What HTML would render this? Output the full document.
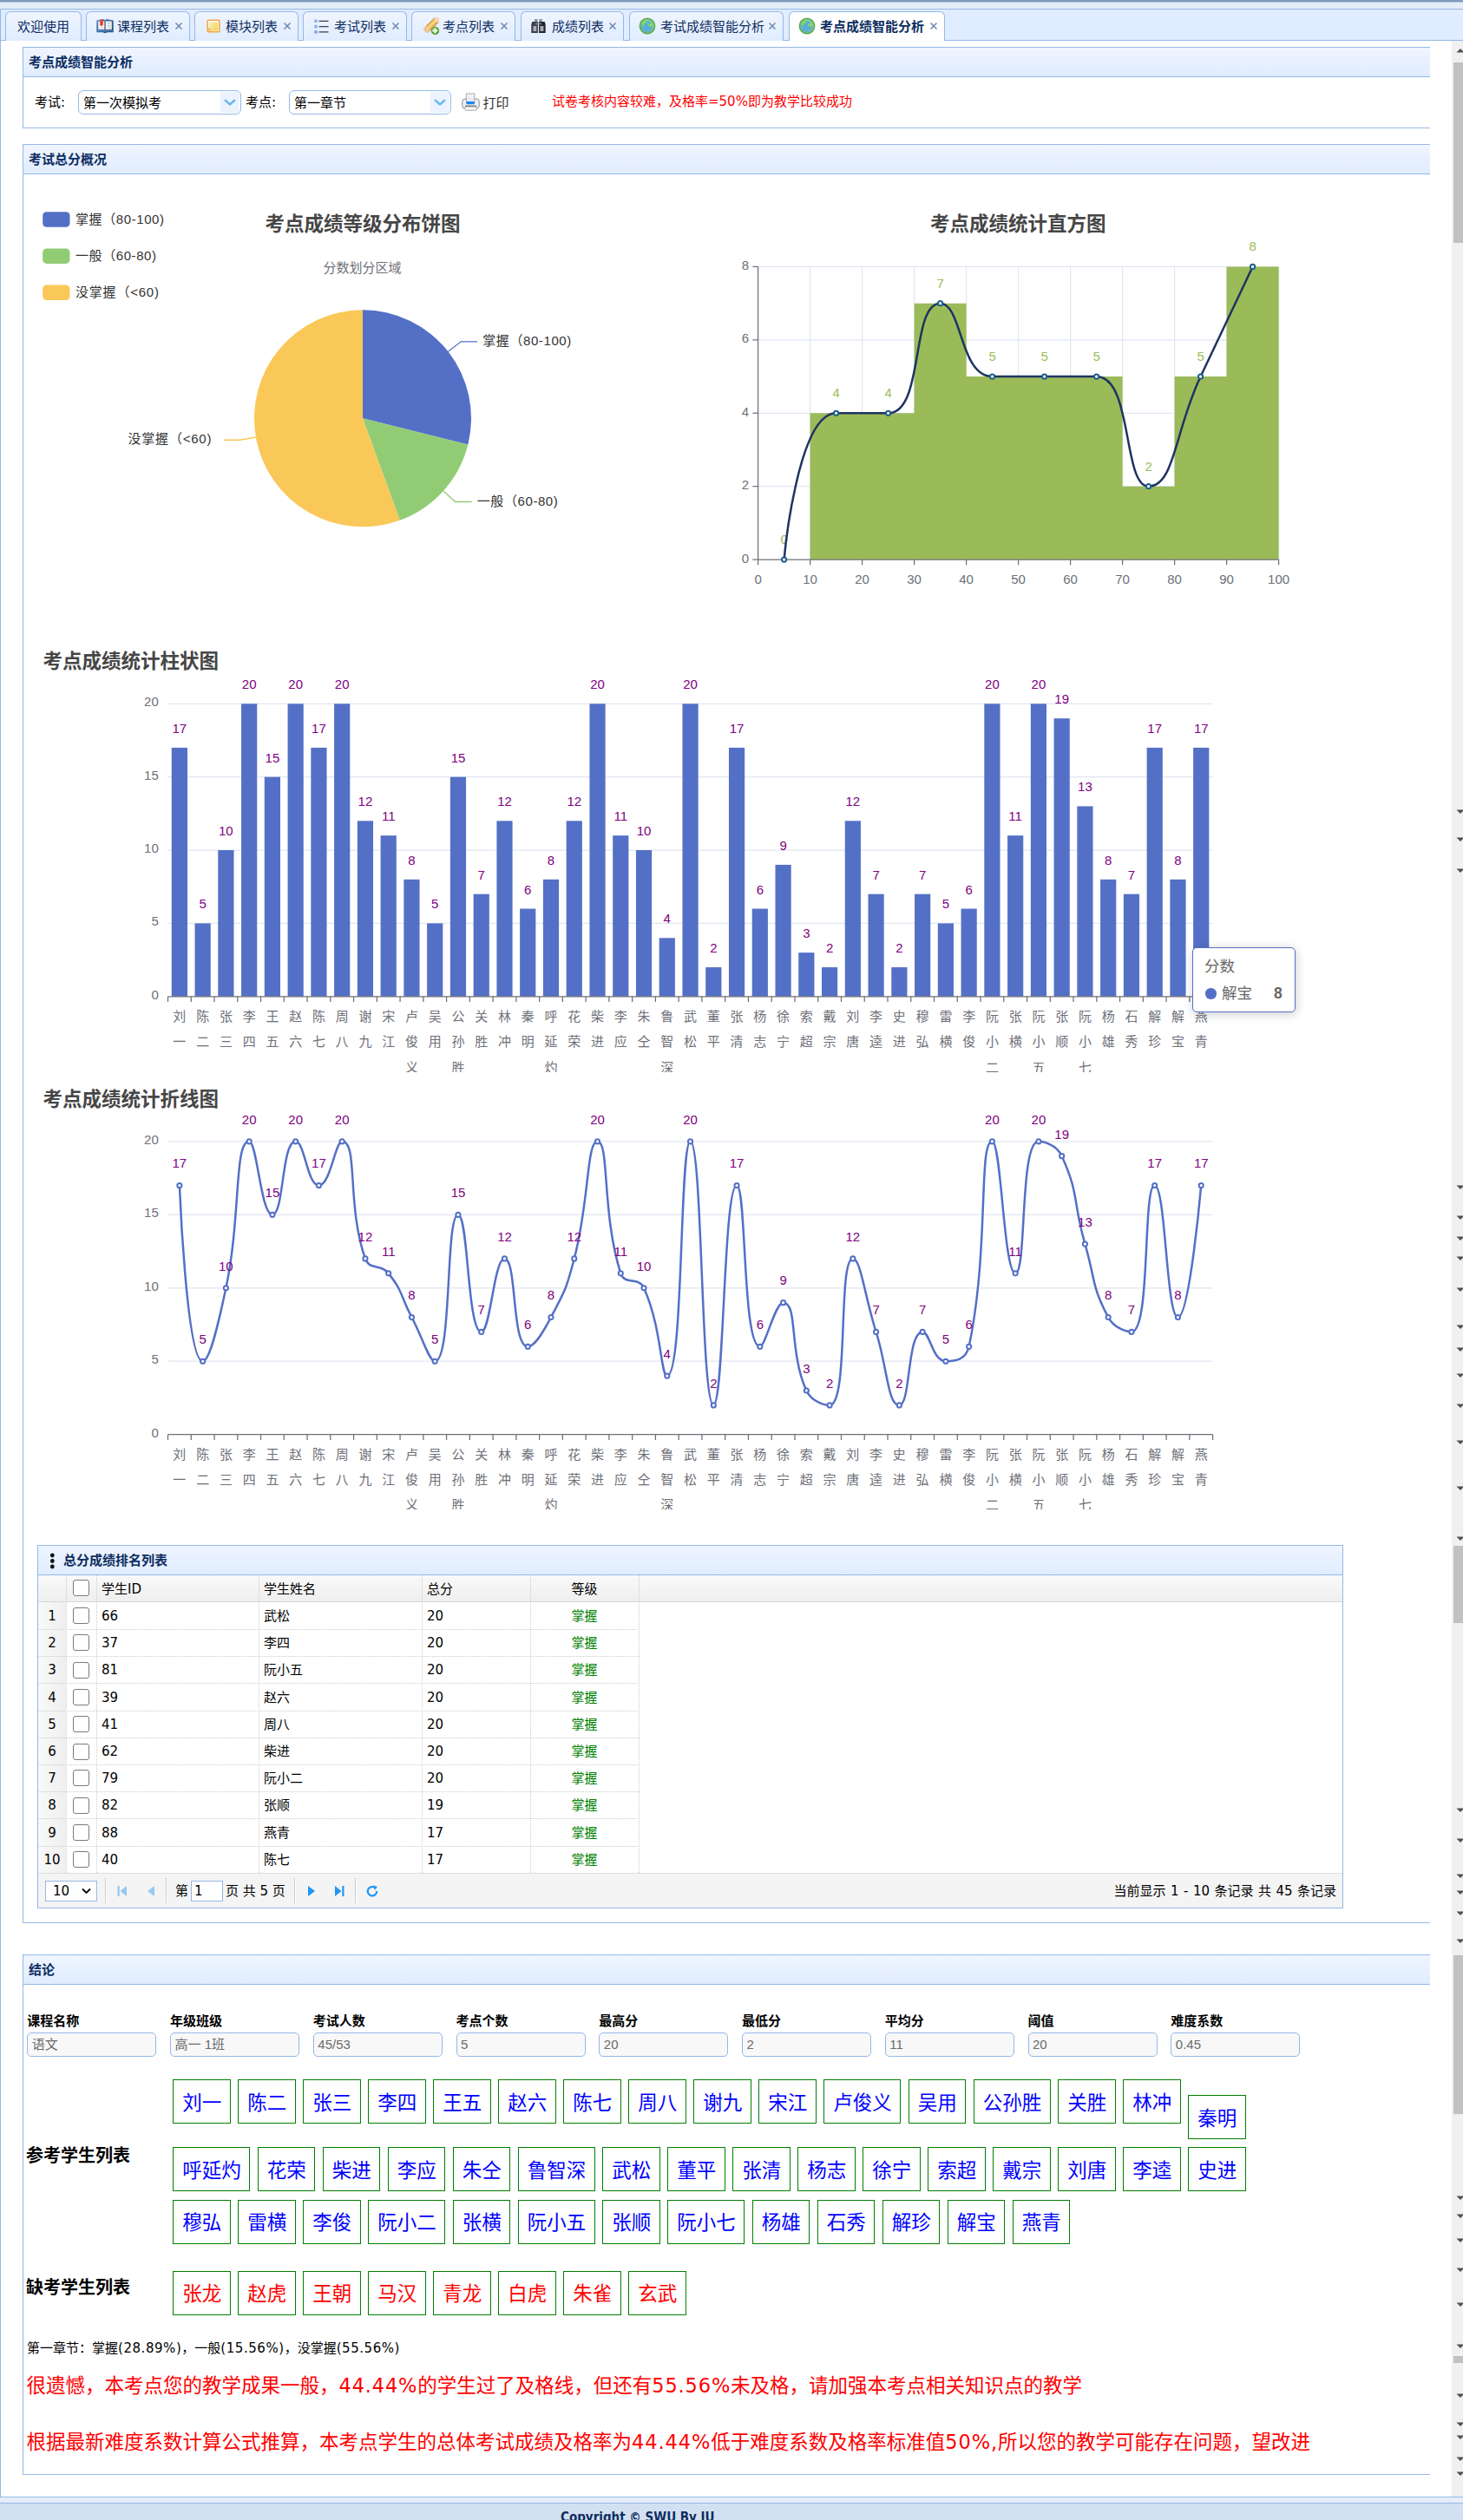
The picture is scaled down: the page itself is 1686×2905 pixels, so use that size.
<!DOCTYPE html><html><head><meta charset="utf-8"><title>考点成绩智能分析</title><style>
*{box-sizing:border-box;margin:0;padding:0}
html,body{width:1686px;height:2905px;overflow:hidden;background:#fff}
body{position:relative;font-family:'DejaVu Sans','Noto Sans CJK SC',sans-serif;font-size:15px;color:#000}
.a{position:absolute}
.t{position:absolute;white-space:nowrap}
.ph{position:absolute;background:linear-gradient(to bottom,#eff5ff 0,#e0ecff 100%);border:1px solid #95b8e7;border-right:0}
.ph b{position:absolute;left:6px;top:0;font-size:15px;line-height:33px;font-weight:bold;color:#0e2d5f;font-family:'Liberation Sans','Noto Sans CJK SC',sans-serif;}
.pb{position:absolute;border:1px solid #95b8e7;border-top:0;border-right:0;background:#fff}
.tab{position:absolute;top:13px;height:34px;border:1px solid #95b8e7;border-bottom:0;border-radius:6px 6px 0 0;
  background:linear-gradient(to bottom,#eff5ff 0,#e0ecff 100%);font-family:'Liberation Sans','Noto Sans CJK SC',sans-serif;font-size:15px;color:#0e2d5f;line-height:33px;white-space:nowrap}
.tab.sel{background:#fff;font-weight:bold}
.tab svg{position:absolute}
</style></head><body>
<div class="a" style="left:0;top:0;width:1686px;height:2px;background:#7f9abf"></div>
<div class="a" style="left:0;top:2px;width:1686px;height:1px;background:#b3c4dc"></div>
<div class="a" style="left:0;top:3px;width:1686px;height:8px;background:#e5edf7"></div>
<div class="a" style="left:0;top:10px;width:1686px;height:37px;background:#e0ecff;border-top:1px solid #95b8e7;border-bottom:1px solid #95b8e7;border-left:1px solid #95b8e7"></div>
<div class="a" style="left:0;top:46px;width:1px;height:2833px;background:#95b8e7"></div>
<div class="a" style="left:0;top:2878px;width:1686px;height:1px;background:#95b8e7"></div>
<div class="a" style="left:0;top:2879px;width:1686px;height:6px;background:#e5edf7"></div>
<div class="a" style="left:0;top:2885px;width:1686px;height:1px;background:#95b8e7"></div>
<div class="a" style="left:0;top:2886px;width:1686px;height:19px;background:#d3e0f1"></div>
<div class="t" style="left:646px;top:2886.5px;font:bold 15px/30px 'DejaVu Sans Condensed',sans-serif;color:#0e2d5f">Copyright © SWU By IU</div>
<div class="tab" style="left:6px;width:88px"><span class="t" style="left:0;width:86px;text-align:center;top:0">欢迎使用</span></div>
<div class="tab" style="left:99px;width:120px"><svg style="left:11px;top:6px" width="20" height="20" viewBox="0 0 20 20"><defs><linearGradient id="bk" x1="0" y1="0" x2="1" y2="1"><stop offset="0" stop-color="#5b8ec4"/><stop offset="1" stop-color="#123f75"/></linearGradient></defs><path d="M0.3 3.5L8.3 2L10 3.2L11.7 2L19.7 3.5V17.2H12.2Q10 19.2 7.8 17.2H0.3z" fill="url(#bk)"/><path d="M2.2 4.6h6.9v9.4H2.2zM10.9 4.6h6.9v9.4h-6.9z" fill="#f3f3f3"/><path d="M10 4.5v9.8" stroke="#aaa" stroke-width="1"/><path d="M13 7h3.8M13 9.6h3.8M13 12.2h3.8M4.5 12.2h3.5" stroke="#c4c4c4" stroke-width="1.1"/><path d="M4.2 2.4h3.6v6.2L6 10.4L4.2 8.6z" fill="#e8402e"/><path d="M0.8 15.6h18.4" stroke="#6f9ccb" stroke-width="0.9"/></svg><span class="t" style="left:35px;top:0">课程列表</span><svg style="left:100.5px;top:11.3px" width="10" height="10" viewBox="0 0 10 10"><path d="M1.5 1.5l7 7M8.5 1.5l-7 7" stroke="#6f86ad" stroke-width="1.5"/></svg></div>
<div class="tab" style="left:224px;width:120px"><svg style="left:11px;top:6px" width="20" height="20" viewBox="0 0 20 20"><defs><linearGradient id="nt" x1="0" y1="0" x2="1" y2="1"><stop offset="0" stop-color="#faeeb0"/><stop offset="1" stop-color="#f1d444"/></linearGradient></defs><rect x="2.4" y="2.4" width="15.2" height="15" rx="1.6" fill="#f0a84e"/><rect x="4" y="4" width="12" height="11.8" fill="#fffdf4"/><rect x="5.2" y="5.6" width="10" height="9.6" fill="url(#nt)"/><path d="M4 11.4l5 4.4H4z" fill="#f3c070"/><path d="M5 9.6h4.8v5.6z" fill="#f6e2a6"/></svg><span class="t" style="left:35px;top:0">模块列表</span><svg style="left:100.5px;top:11.3px" width="10" height="10" viewBox="0 0 10 10"><path d="M1.5 1.5l7 7M8.5 1.5l-7 7" stroke="#6f86ad" stroke-width="1.5"/></svg></div>
<div class="tab" style="left:349px;width:120px"><svg style="left:11px;top:6px" width="20" height="20" viewBox="0 0 20 20"><rect x="1.2" y="2.5" width="3.6" height="3.6" rx="1" fill="#8cb4e8"/><rect x="1.2" y="8.8" width="3.6" height="3.6" rx="1" fill="#8cb4e8"/><rect x="1.2" y="15.1" width="3.6" height="3.6" rx="1" fill="#80aae4"/><path d="M6.6 4.3h10.9M6.6 10.6h10.9M6.6 16.9h10.9" stroke="#3c3f45" stroke-width="1.3"/></svg><span class="t" style="left:35px;top:0">考试列表</span><svg style="left:100.5px;top:11.3px" width="10" height="10" viewBox="0 0 10 10"><path d="M1.5 1.5l7 7M8.5 1.5l-7 7" stroke="#6f86ad" stroke-width="1.5"/></svg></div>
<div class="tab" style="left:474px;width:120px"><svg style="left:11px;top:6px" width="20" height="20" viewBox="0 0 20 20"><defs><linearGradient id="pc" x1="0" y1="0" x2="1" y2="0"><stop offset="0" stop-color="#d9a35c"/><stop offset="0.5" stop-color="#f6e27a"/><stop offset="1" stop-color="#d69048"/></linearGradient></defs><g transform="rotate(45 10 10)"><rect x="6.5" y="-2.5" width="7" height="21" rx="3" fill="url(#pc)" stroke="#c48a40" stroke-width="0.6"/><rect x="6.5" y="13" width="7" height="5.5" rx="2" fill="#f2c89a"/><rect x="6.5" y="-2.5" width="7" height="4" rx="2" fill="#f7d7b5"/></g><circle cx="15.5" cy="15.4" r="4.6" fill="#4f9a2f"/><circle cx="15" cy="14.7" r="3.2" fill="#7fc25a"/><path d="M15.5 12.4v6M12.5 15.4h6" stroke="#fff" stroke-width="1.6"/></svg><span class="t" style="left:35px;top:0">考点列表</span><svg style="left:100.5px;top:11.3px" width="10" height="10" viewBox="0 0 10 10"><path d="M1.5 1.5l7 7M8.5 1.5l-7 7" stroke="#6f86ad" stroke-width="1.5"/></svg></div>
<div class="tab" style="left:600px;width:119px"><svg style="left:11px;top:6px" width="20" height="20" viewBox="0 0 20 20"><path d="M4 2h3.6v6H4zM9.3 2h3.6v6H9.3z" fill="#8d96a2"/><path d="M1.3 5h6.6v13H0.3V8z" fill="#3b3f46"/><path d="M9.1 5h6.6l1 3v10H9.1z" fill="#24272c"/><path d="M2.5 10h3.8v6H2.5zM10.6 10h3.8v6h-3.8z" fill="#a8b0bb"/><path d="M5 7.4h7" stroke="#7a8aa2" stroke-width="1.6"/></svg><span class="t" style="left:35px;top:0">成绩列表</span><svg style="left:99.5px;top:11.3px" width="10" height="10" viewBox="0 0 10 10"><path d="M1.5 1.5l7 7M8.5 1.5l-7 7" stroke="#6f86ad" stroke-width="1.5"/></svg></div>
<div class="tab" style="left:725px;width:178px"><svg style="left:10px;top:6px" width="20" height="20" viewBox="0 0 20 20"><defs><radialGradient id="gg" cx="45%" cy="55%" r="60%"><stop offset="0" stop-color="#58a8e0"/><stop offset="0.6" stop-color="#5eb2c8"/><stop offset="1" stop-color="#9ad48a"/></radialGradient></defs><circle cx="10" cy="10" r="9.4" fill="#5aaa48"/><circle cx="10" cy="10" r="7.9" fill="url(#gg)"/><path d="M4 6c2-3 5-3.5 6-3 0 2-1 3-3 4-1 1-1 3-2 4-1-1-1.5-3-1-5zM11 8c2-1 4-2 6-1 0 2 0 3-2 4-1 0-2-1-4-1-1 0-1-1 0-2z" fill="#7edc6a" opacity="0.9"/></svg><span class="t" style="left:35px;top:0">考试成绩智能分析</span><svg style="left:158.5px;top:11.3px" width="10" height="10" viewBox="0 0 10 10"><path d="M1.5 1.5l7 7M8.5 1.5l-7 7" stroke="#6f86ad" stroke-width="1.5"/></svg></div>
<div class="tab sel" style="left:909px;width:180px"><svg style="left:10px;top:6px" width="20" height="20" viewBox="0 0 20 20"><defs><radialGradient id="gg" cx="45%" cy="55%" r="60%"><stop offset="0" stop-color="#58a8e0"/><stop offset="0.6" stop-color="#5eb2c8"/><stop offset="1" stop-color="#9ad48a"/></radialGradient></defs><circle cx="10" cy="10" r="9.4" fill="#5aaa48"/><circle cx="10" cy="10" r="7.9" fill="url(#gg)"/><path d="M4 6c2-3 5-3.5 6-3 0 2-1 3-3 4-1 1-1 3-2 4-1-1-1.5-3-1-5zM11 8c2-1 4-2 6-1 0 2 0 3-2 4-1 0-2-1-4-1-1 0-1-1 0-2z" fill="#7edc6a" opacity="0.9"/></svg><span class="t" style="left:35px;top:0">考点成绩智能分析</span><svg style="left:160.5px;top:11.3px" width="10" height="10" viewBox="0 0 10 10"><path d="M1.5 1.5l7 7M8.5 1.5l-7 7" stroke="#6f86ad" stroke-width="1.5"/></svg></div>
<div class="a" style="left:1673px;top:47px;width:13px;height:2831px;background:#f0f0f0"></div>
<div class="a" style="left:1675px;top:72px;width:11px;height:208px;background:#c1c1c1"></div>
<div class="a" style="left:1675px;top:1782px;width:11px;height:89px;background:#c1c1c1"></div>
<div class="a" style="left:1675px;top:2254px;width:11px;height:183px;background:#c1c1c1"></div>
<div class="a" style="left:1675px;top:2716px;width:11px;height:8px;background:#c1c1c1"></div>
<svg class="a" style="left:1678px;top:55px" width="8" height="6"><path d="M0.5 5.5L5 1l4.5 4.5z" fill="#505050"/></svg>
<svg class="a" style="left:1678px;top:932.9px" width="8" height="6"><path d="M0.5 0.5h9L5 5z" fill="#505050"/></svg>
<svg class="a" style="left:1678px;top:964.7px" width="8" height="6"><path d="M0.5 0.5h9L5 5z" fill="#505050"/></svg>
<svg class="a" style="left:1678px;top:1000.8px" width="8" height="6"><path d="M0.5 0.5h9L5 5z" fill="#505050"/></svg>
<svg class="a" style="left:1678px;top:1365.5px" width="8" height="6"><path d="M0.5 0.5h9L5 5z" fill="#505050"/></svg>
<svg class="a" style="left:1678px;top:1401.2px" width="8" height="6"><path d="M0.5 0.5h9L5 5z" fill="#505050"/></svg>
<svg class="a" style="left:1678px;top:1425.3px" width="8" height="6"><path d="M0.5 0.5h9L5 5z" fill="#505050"/></svg>
<svg class="a" style="left:1678px;top:1448.0px" width="8" height="6"><path d="M0.5 0.5h9L5 5z" fill="#505050"/></svg>
<svg class="a" style="left:1678px;top:1484.0px" width="8" height="6"><path d="M0.5 0.5h9L5 5z" fill="#505050"/></svg>
<svg class="a" style="left:1678px;top:1527.4px" width="8" height="6"><path d="M0.5 0.5h9L5 5z" fill="#505050"/></svg>
<svg class="a" style="left:1678px;top:1553.2px" width="8" height="6"><path d="M0.5 0.5h9L5 5z" fill="#505050"/></svg>
<svg class="a" style="left:1678px;top:1583.2px" width="8" height="6"><path d="M0.5 0.5h9L5 5z" fill="#505050"/></svg>
<svg class="a" style="left:1678px;top:1618.3px" width="8" height="6"><path d="M0.5 0.5h9L5 5z" fill="#505050"/></svg>
<svg class="a" style="left:1678px;top:1660.2px" width="8" height="6"><path d="M0.5 0.5h9L5 5z" fill="#505050"/></svg>
<svg class="a" style="left:1678px;top:1712.6px" width="8" height="6"><path d="M0.5 0.5h9L5 5z" fill="#505050"/></svg>
<svg class="a" style="left:1678px;top:1770.6px" width="8" height="6"><path d="M0.5 0.5h9L5 5z" fill="#505050"/></svg>
<svg class="a" style="left:1678px;top:2083.7px" width="8" height="6"><path d="M0.5 0.5h9L5 5z" fill="#505050"/></svg>
<svg class="a" style="left:1678px;top:2118.6px" width="8" height="6"><path d="M0.5 0.5h9L5 5z" fill="#505050"/></svg>
<svg class="a" style="left:1678px;top:2159.9px" width="8" height="6"><path d="M0.5 0.5h9L5 5z" fill="#505050"/></svg>
<svg class="a" style="left:1678px;top:2178.9px" width="8" height="6"><path d="M0.5 0.5h9L5 5z" fill="#505050"/></svg>
<svg class="a" style="left:1678px;top:2202.8px" width="8" height="6"><path d="M0.5 0.5h9L5 5z" fill="#505050"/></svg>
<svg class="a" style="left:1678px;top:2235.2px" width="8" height="6"><path d="M0.5 0.5h9L5 5z" fill="#505050"/></svg>
<svg class="a" style="left:1678px;top:2531.2px" width="8" height="6"><path d="M0.5 0.5h9L5 5z" fill="#505050"/></svg>
<svg class="a" style="left:1678px;top:2552.2px" width="8" height="6"><path d="M0.5 0.5h9L5 5z" fill="#505050"/></svg>
<svg class="a" style="left:1678px;top:2580.4px" width="8" height="6"><path d="M0.5 0.5h9L5 5z" fill="#505050"/></svg>
<svg class="a" style="left:1678px;top:2614.4px" width="8" height="6"><path d="M0.5 0.5h9L5 5z" fill="#505050"/></svg>
<svg class="a" style="left:1678px;top:2653.7px" width="8" height="6"><path d="M0.5 0.5h9L5 5z" fill="#505050"/></svg>
<svg class="a" style="left:1678px;top:2701.6px" width="8" height="6"><path d="M0.5 0.5h9L5 5z" fill="#505050"/></svg>
<svg class="a" style="left:1678px;top:2758.5px" width="8" height="6"><path d="M0.5 0.5h9L5 5z" fill="#505050"/></svg>
<svg class="a" style="left:1678px;top:2792.4px" width="8" height="6"><path d="M0.5 0.5h9L5 5z" fill="#505050"/></svg>
<svg class="a" style="left:1678px;top:2806.6px" width="8" height="6"><path d="M0.5 0.5h9L5 5z" fill="#505050"/></svg>
<svg class="a" style="left:1678px;top:2832.4px" width="8" height="6"><path d="M0.5 0.5h9L5 5z" fill="#505050"/></svg>
<svg class="a" style="left:1678px;top:2848.5px" width="8" height="6"><path d="M0.5 0.5h9L5 5z" fill="#505050"/></svg>
<div class="ph" style="left:26px;top:54px;width:1622px;height:35px"><b>考点成绩智能分析</b></div>
<div class="pb" style="left:26px;top:89px;width:1622px;height:59px"></div>
<div class="ph" style="left:26px;top:166px;width:1622px;height:35px"><b>考试总分概况</b></div>
<div class="pb" style="left:26px;top:201px;width:1622px;height:2016px"></div>
<div class="ph" style="left:26px;top:2253px;width:1622px;height:35px"><b>结论</b></div>
<div class="pb" style="left:26px;top:2288px;width:1622px;height:565px"></div>
<div class="t" style="left:40px;top:107px;font:15px/22px 'DejaVu Sans','Noto Sans CJK SC',sans-serif">考试:</div>
<div class="t" style="left:283px;top:107px;font:15px/22px 'DejaVu Sans','Noto Sans CJK SC',sans-serif">考点:</div>
<div class="a" style="left:90px;top:104px;width:188px;height:28px;border:1px solid #95b8e7;border-radius:6px;background:#fff"><span class="t" style="left:5px;top:3px;font:15px/22px 'DejaVu Sans','Noto Sans CJK SC',sans-serif">第一次模拟考</span><span class="a" style="right:1px;top:0.5px;width:22px;height:24.5px;background:#ebf3fe"></span><svg class="a" style="right:5px;top:8.5px" width="14" height="9"><path d="M1.8 1.8l5.2 4.6 5.2-4.6" stroke="#6db8ec" stroke-width="2.6" stroke-linecap="round" stroke-linejoin="round" fill="none"/></svg></div>
<div class="a" style="left:333px;top:104px;width:187px;height:28px;border:1px solid #95b8e7;border-radius:6px;background:#fff"><span class="t" style="left:5px;top:3px;font:15px/22px 'DejaVu Sans','Noto Sans CJK SC',sans-serif">第一章节</span><span class="a" style="right:1px;top:0.5px;width:22px;height:24.5px;background:#ebf3fe"></span><svg class="a" style="right:5px;top:8.5px" width="14" height="9"><path d="M1.8 1.8l5.2 4.6 5.2-4.6" stroke="#6db8ec" stroke-width="2.6" stroke-linecap="round" stroke-linejoin="round" fill="none"/></svg></div>
<svg class="a" style="left:532px;top:107px" width="21" height="21" viewBox="0 0 21 21"><defs><linearGradient id="pp" x1="0" y1="0" x2="0" y2="1"><stop offset="0" stop-color="#f4f6fa"/><stop offset="1" stop-color="#dfe6f0"/></linearGradient></defs><rect x="0.8" y="7" width="19.4" height="11" rx="3" fill="#eef0f3" stroke="#8c8c90" stroke-width="1"/><rect x="5.3" y="1" width="9.6" height="10" fill="url(#pp)" stroke="#9a9a9e" stroke-width="0.8"/><rect x="5.3" y="10" width="9.6" height="3.2" rx="1" fill="#1a86f2"/><path d="M4 15.2h13" stroke="#4e4e52" stroke-width="1.1"/><rect x="3.8" y="16" width="13.4" height="4.2" rx="1.5" fill="#fafafa" stroke="#9a9a9e" stroke-width="0.9"/></svg>
<div class="t" style="left:556.5px;top:108px;font:15px/22px 'DejaVu Sans','Noto Sans CJK SC',sans-serif;color:#333">打印</div>
<div class="t" style="left:636px;top:106px;font:15px/22px 'DejaVu Sans','Noto Sans CJK SC',sans-serif;color:#ff0000">试卷考核内容较难，及格率=50%即为教学比较成功</div>
<svg class="a" style="left:0;top:0" width="1686" height="900"><rect x="49.2" y="244.3" width="31.3" height="17.5" rx="4.5" fill="#5470c6"/><text x="87.00" y="252.20" font-size="15" fill="#333" text-anchor="start" dominant-baseline="central" font-weight="normal" font-family="'Liberation Sans','Noto Sans CJK SC',sans-serif" textLength="102" lengthAdjust="spacing">掌握（80-100)</text><rect x="49.2" y="286.4" width="31.3" height="17.5" rx="4.5" fill="#91cc75"/><text x="87.00" y="294.30" font-size="15" fill="#333" text-anchor="start" dominant-baseline="central" font-weight="normal" font-family="'Liberation Sans','Noto Sans CJK SC',sans-serif" textLength="93" lengthAdjust="spacing">一般（60-80)</text><rect x="49.2" y="328.5" width="31.3" height="17.5" rx="4.5" fill="#fac858"/><text x="87.00" y="336.40" font-size="15" fill="#333" text-anchor="start" dominant-baseline="central" font-weight="normal" font-family="'Liberation Sans','Noto Sans CJK SC',sans-serif" textLength="96" lengthAdjust="spacing">没掌握（&lt;60)</text><path d="M418,482.3L418.00,357.30A125,125 0 0 1 539.29,512.54Z" fill="#5470c6"/><polyline points="516.50,405.34 531.28,393.80 550.03,393.80" fill="none" stroke="#5470c6" stroke-width="1.3"/><text x="556.23" y="392.50" font-size="15" fill="#333" text-anchor="start" dominant-baseline="central" font-weight="normal" font-family="'Liberation Sans','Noto Sans CJK SC',sans-serif" textLength="102" lengthAdjust="spacing">掌握（80-100)</text><path d="M418,482.3L539.29,512.54A125,125 0 0 1 460.75,599.76Z" fill="#91cc75"/><polyline points="510.89,565.94 524.83,578.49 543.58,578.49" fill="none" stroke="#91cc75" stroke-width="1.3"/><text x="549.78" y="577.19" font-size="15" fill="#333" text-anchor="start" dominant-baseline="central" font-weight="normal" font-family="'Liberation Sans','Noto Sans CJK SC',sans-serif" textLength="93" lengthAdjust="spacing">一般（60-80)</text><path d="M418,482.3L460.75,599.76A125,125 0 1 1 418.00,357.30Z" fill="#fac858"/><polyline points="294.90,504.01 276.43,507.26 257.68,507.26" fill="none" stroke="#fac858" stroke-width="1.3"/><text x="243.50" y="505.96" font-size="15" fill="#333" text-anchor="end" dominant-baseline="central" font-weight="normal" font-family="'Liberation Sans','Noto Sans CJK SC',sans-serif" textLength="96" lengthAdjust="spacing">没掌握（&lt;60)</text><text x="418.00" y="258.00" font-size="22.5" fill="#464646" text-anchor="middle" dominant-baseline="central" font-weight="bold" font-family="'Liberation Sans','Noto Sans CJK SC',sans-serif">考点成绩等级分布饼图</text><text x="417.50" y="308.00" font-size="15" fill="#6e7079" text-anchor="middle" dominant-baseline="central" font-weight="normal" font-family="'Liberation Sans','Noto Sans CJK SC',sans-serif">分数划分区域</text><text x="1173.20" y="258.00" font-size="22.5" fill="#464646" text-anchor="middle" dominant-baseline="central" font-weight="bold" font-family="'Liberation Sans','Noto Sans CJK SC',sans-serif">考点成绩统计直方图</text><line x1="873.6" y1="560.68" x2="1473.6" y2="560.68" stroke="#e0e6f1" stroke-width="1.25"/><line x1="873.6" y1="476.26" x2="1473.6" y2="476.26" stroke="#e0e6f1" stroke-width="1.25"/><line x1="873.6" y1="391.84" x2="1473.6" y2="391.84" stroke="#e0e6f1" stroke-width="1.25"/><line x1="873.6" y1="307.42" x2="1473.6" y2="307.42" stroke="#e0e6f1" stroke-width="1.25"/><line x1="933.60" y1="307.42" x2="933.60" y2="645.1" stroke="#e0e6f1" stroke-width="1.25"/><line x1="993.60" y1="307.42" x2="993.60" y2="645.1" stroke="#e0e6f1" stroke-width="1.25"/><line x1="1053.60" y1="307.42" x2="1053.60" y2="645.1" stroke="#e0e6f1" stroke-width="1.25"/><line x1="1113.60" y1="307.42" x2="1113.60" y2="645.1" stroke="#e0e6f1" stroke-width="1.25"/><line x1="1173.60" y1="307.42" x2="1173.60" y2="645.1" stroke="#e0e6f1" stroke-width="1.25"/><line x1="1233.60" y1="307.42" x2="1233.60" y2="645.1" stroke="#e0e6f1" stroke-width="1.25"/><line x1="1293.60" y1="307.42" x2="1293.60" y2="645.1" stroke="#e0e6f1" stroke-width="1.25"/><line x1="1353.60" y1="307.42" x2="1353.60" y2="645.1" stroke="#e0e6f1" stroke-width="1.25"/><line x1="1413.60" y1="307.42" x2="1413.60" y2="645.1" stroke="#e0e6f1" stroke-width="1.25"/><line x1="1473.60" y1="307.42" x2="1473.60" y2="645.1" stroke="#e0e6f1" stroke-width="1.25"/><path d="M933.60,645.1L933.60,476.26L993.60,476.26L993.60,476.26L1053.60,476.26L1053.60,349.63L1113.60,349.63L1113.60,434.05L1173.60,434.05L1173.60,434.05L1233.60,434.05L1233.60,434.05L1293.60,434.05L1293.60,560.68L1353.60,560.68L1353.60,434.05L1413.60,434.05L1413.60,307.42L1473.60,307.42L1473.60,645.1Z" fill="#9bbb59"/><line x1="873.6" y1="307.42" x2="873.6" y2="645.1" stroke="#6e7079" stroke-width="1.25"/><line x1="873.6" y1="645.1" x2="1473.6" y2="645.1" stroke="#6e7079" stroke-width="1.25"/><line x1="867.35" y1="645.10" x2="873.6" y2="645.10" stroke="#6e7079" stroke-width="1.25"/><text x="863.10" y="643.10" font-size="15" fill="#6e7079" text-anchor="end" dominant-baseline="central" font-weight="normal" font-family="'Liberation Sans','Noto Sans CJK SC',sans-serif">0</text><line x1="867.35" y1="560.68" x2="873.6" y2="560.68" stroke="#6e7079" stroke-width="1.25"/><text x="863.10" y="558.68" font-size="15" fill="#6e7079" text-anchor="end" dominant-baseline="central" font-weight="normal" font-family="'Liberation Sans','Noto Sans CJK SC',sans-serif">2</text><line x1="867.35" y1="476.26" x2="873.6" y2="476.26" stroke="#6e7079" stroke-width="1.25"/><text x="863.10" y="474.26" font-size="15" fill="#6e7079" text-anchor="end" dominant-baseline="central" font-weight="normal" font-family="'Liberation Sans','Noto Sans CJK SC',sans-serif">4</text><line x1="867.35" y1="391.84" x2="873.6" y2="391.84" stroke="#6e7079" stroke-width="1.25"/><text x="863.10" y="389.84" font-size="15" fill="#6e7079" text-anchor="end" dominant-baseline="central" font-weight="normal" font-family="'Liberation Sans','Noto Sans CJK SC',sans-serif">6</text><line x1="867.35" y1="307.42" x2="873.6" y2="307.42" stroke="#6e7079" stroke-width="1.25"/><text x="863.10" y="305.42" font-size="15" fill="#6e7079" text-anchor="end" dominant-baseline="central" font-weight="normal" font-family="'Liberation Sans','Noto Sans CJK SC',sans-serif">8</text><line x1="873.60" y1="645.1" x2="873.60" y2="651.35" stroke="#6e7079" stroke-width="1.25"/><text x="873.60" y="667.40" font-size="15" fill="#6e7079" text-anchor="middle" dominant-baseline="central" font-weight="normal" font-family="'Liberation Sans','Noto Sans CJK SC',sans-serif">0</text><line x1="933.60" y1="645.1" x2="933.60" y2="651.35" stroke="#6e7079" stroke-width="1.25"/><text x="933.60" y="667.40" font-size="15" fill="#6e7079" text-anchor="middle" dominant-baseline="central" font-weight="normal" font-family="'Liberation Sans','Noto Sans CJK SC',sans-serif">10</text><line x1="993.60" y1="645.1" x2="993.60" y2="651.35" stroke="#6e7079" stroke-width="1.25"/><text x="993.60" y="667.40" font-size="15" fill="#6e7079" text-anchor="middle" dominant-baseline="central" font-weight="normal" font-family="'Liberation Sans','Noto Sans CJK SC',sans-serif">20</text><line x1="1053.60" y1="645.1" x2="1053.60" y2="651.35" stroke="#6e7079" stroke-width="1.25"/><text x="1053.60" y="667.40" font-size="15" fill="#6e7079" text-anchor="middle" dominant-baseline="central" font-weight="normal" font-family="'Liberation Sans','Noto Sans CJK SC',sans-serif">30</text><line x1="1113.60" y1="645.1" x2="1113.60" y2="651.35" stroke="#6e7079" stroke-width="1.25"/><text x="1113.60" y="667.40" font-size="15" fill="#6e7079" text-anchor="middle" dominant-baseline="central" font-weight="normal" font-family="'Liberation Sans','Noto Sans CJK SC',sans-serif">40</text><line x1="1173.60" y1="645.1" x2="1173.60" y2="651.35" stroke="#6e7079" stroke-width="1.25"/><text x="1173.60" y="667.40" font-size="15" fill="#6e7079" text-anchor="middle" dominant-baseline="central" font-weight="normal" font-family="'Liberation Sans','Noto Sans CJK SC',sans-serif">50</text><line x1="1233.60" y1="645.1" x2="1233.60" y2="651.35" stroke="#6e7079" stroke-width="1.25"/><text x="1233.60" y="667.40" font-size="15" fill="#6e7079" text-anchor="middle" dominant-baseline="central" font-weight="normal" font-family="'Liberation Sans','Noto Sans CJK SC',sans-serif">60</text><line x1="1293.60" y1="645.1" x2="1293.60" y2="651.35" stroke="#6e7079" stroke-width="1.25"/><text x="1293.60" y="667.40" font-size="15" fill="#6e7079" text-anchor="middle" dominant-baseline="central" font-weight="normal" font-family="'Liberation Sans','Noto Sans CJK SC',sans-serif">70</text><line x1="1353.60" y1="645.1" x2="1353.60" y2="651.35" stroke="#6e7079" stroke-width="1.25"/><text x="1353.60" y="667.40" font-size="15" fill="#6e7079" text-anchor="middle" dominant-baseline="central" font-weight="normal" font-family="'Liberation Sans','Noto Sans CJK SC',sans-serif">80</text><line x1="1413.60" y1="645.1" x2="1413.60" y2="651.35" stroke="#6e7079" stroke-width="1.25"/><text x="1413.60" y="667.40" font-size="15" fill="#6e7079" text-anchor="middle" dominant-baseline="central" font-weight="normal" font-family="'Liberation Sans','Noto Sans CJK SC',sans-serif">90</text><line x1="1473.60" y1="645.1" x2="1473.60" y2="651.35" stroke="#6e7079" stroke-width="1.25"/><text x="1473.60" y="667.40" font-size="15" fill="#6e7079" text-anchor="middle" dominant-baseline="central" font-weight="normal" font-family="'Liberation Sans','Noto Sans CJK SC',sans-serif">100</text><text x="903.60" y="621.60" font-size="15" fill="#9bbb59" text-anchor="middle" dominant-baseline="central" font-weight="normal" font-family="'Liberation Sans','Noto Sans CJK SC',sans-serif">0</text><text x="963.60" y="452.76" font-size="15" fill="#9bbb59" text-anchor="middle" dominant-baseline="central" font-weight="normal" font-family="'Liberation Sans','Noto Sans CJK SC',sans-serif">4</text><text x="1023.60" y="452.76" font-size="15" fill="#9bbb59" text-anchor="middle" dominant-baseline="central" font-weight="normal" font-family="'Liberation Sans','Noto Sans CJK SC',sans-serif">4</text><text x="1083.60" y="326.13" font-size="15" fill="#9bbb59" text-anchor="middle" dominant-baseline="central" font-weight="normal" font-family="'Liberation Sans','Noto Sans CJK SC',sans-serif">7</text><text x="1143.60" y="410.55" font-size="15" fill="#9bbb59" text-anchor="middle" dominant-baseline="central" font-weight="normal" font-family="'Liberation Sans','Noto Sans CJK SC',sans-serif">5</text><text x="1203.60" y="410.55" font-size="15" fill="#9bbb59" text-anchor="middle" dominant-baseline="central" font-weight="normal" font-family="'Liberation Sans','Noto Sans CJK SC',sans-serif">5</text><text x="1263.60" y="410.55" font-size="15" fill="#9bbb59" text-anchor="middle" dominant-baseline="central" font-weight="normal" font-family="'Liberation Sans','Noto Sans CJK SC',sans-serif">5</text><text x="1323.60" y="537.18" font-size="15" fill="#9bbb59" text-anchor="middle" dominant-baseline="central" font-weight="normal" font-family="'Liberation Sans','Noto Sans CJK SC',sans-serif">2</text><text x="1383.60" y="410.55" font-size="15" fill="#9bbb59" text-anchor="middle" dominant-baseline="central" font-weight="normal" font-family="'Liberation Sans','Noto Sans CJK SC',sans-serif">5</text><text x="1443.60" y="283.92" font-size="15" fill="#9bbb59" text-anchor="middle" dominant-baseline="central" font-weight="normal" font-family="'Liberation Sans','Noto Sans CJK SC',sans-serif">8</text><path d="M903.60,645.10C903.60,645.10 918.65,476.26 963.60,476.26C978.65,476.26 1005.61,476.26 1023.60,476.26C1065.61,476.26 1049.10,349.63 1083.60,349.63C1109.10,349.63 1105.61,434.05 1143.60,434.05C1165.61,434.05 1173.60,434.05 1203.60,434.05C1233.60,434.05 1245.61,434.05 1263.60,434.05C1305.61,434.05 1293.60,560.68 1323.60,560.68C1353.60,560.68 1353.60,497.37 1383.60,434.05C1413.60,370.74 1443.60,307.42 1443.60,307.42" fill="none" stroke="#1e3461" stroke-width="2.5"/><circle cx="903.60" cy="645.10" r="2.6" fill="#fff" stroke="#1f5f8b" stroke-width="2"/><circle cx="963.60" cy="476.26" r="2.6" fill="#fff" stroke="#1f5f8b" stroke-width="2"/><circle cx="1023.60" cy="476.26" r="2.6" fill="#fff" stroke="#1f5f8b" stroke-width="2"/><circle cx="1083.60" cy="349.63" r="2.6" fill="#fff" stroke="#1f5f8b" stroke-width="2"/><circle cx="1143.60" cy="434.05" r="2.6" fill="#fff" stroke="#1f5f8b" stroke-width="2"/><circle cx="1203.60" cy="434.05" r="2.6" fill="#fff" stroke="#1f5f8b" stroke-width="2"/><circle cx="1263.60" cy="434.05" r="2.6" fill="#fff" stroke="#1f5f8b" stroke-width="2"/><circle cx="1323.60" cy="560.68" r="2.6" fill="#fff" stroke="#1f5f8b" stroke-width="2"/><circle cx="1383.60" cy="434.05" r="2.6" fill="#fff" stroke="#1f5f8b" stroke-width="2"/><circle cx="1443.60" cy="307.42" r="2.6" fill="#fff" stroke="#1f5f8b" stroke-width="2"/></svg>
<svg class="a" style="left:0;top:722px" width="1660" height="514" viewBox="0 722 1660 514"><text x="49.50" y="762.50" font-size="22.5" fill="#464646" text-anchor="start" dominant-baseline="central" font-weight="bold" font-family="'Liberation Sans','Noto Sans CJK SC',sans-serif">考点成绩统计柱状图</text><line x1="193.5" y1="1064.42" x2="1397.6" y2="1064.42" stroke="#e0e6f1" stroke-width="1.25"/><line x1="193.5" y1="980.05" x2="1397.6" y2="980.05" stroke="#e0e6f1" stroke-width="1.25"/><line x1="193.5" y1="895.67" x2="1397.6" y2="895.67" stroke="#e0e6f1" stroke-width="1.25"/><line x1="193.5" y1="811.30" x2="1397.6" y2="811.30" stroke="#e0e6f1" stroke-width="1.25"/><text x="182.80" y="1146.30" font-size="15" fill="#6e7079" text-anchor="end" dominant-baseline="central" font-weight="normal" font-family="'Liberation Sans','Noto Sans CJK SC',sans-serif">0</text><text x="182.80" y="1061.92" font-size="15" fill="#6e7079" text-anchor="end" dominant-baseline="central" font-weight="normal" font-family="'Liberation Sans','Noto Sans CJK SC',sans-serif">5</text><text x="182.80" y="977.55" font-size="15" fill="#6e7079" text-anchor="end" dominant-baseline="central" font-weight="normal" font-family="'Liberation Sans','Noto Sans CJK SC',sans-serif">10</text><text x="182.80" y="893.17" font-size="15" fill="#6e7079" text-anchor="end" dominant-baseline="central" font-weight="normal" font-family="'Liberation Sans','Noto Sans CJK SC',sans-serif">15</text><text x="182.80" y="808.80" font-size="15" fill="#6e7079" text-anchor="end" dominant-baseline="central" font-weight="normal" font-family="'Liberation Sans','Noto Sans CJK SC',sans-serif">20</text><rect x="197.78" y="861.92" width="18.2" height="286.88" fill="#5470c6"/><rect x="224.54" y="1064.42" width="18.2" height="84.38" fill="#5470c6"/><rect x="251.29" y="980.05" width="18.2" height="168.75" fill="#5470c6"/><rect x="278.05" y="811.30" width="18.2" height="337.50" fill="#5470c6"/><rect x="304.81" y="895.67" width="18.2" height="253.12" fill="#5470c6"/><rect x="331.57" y="811.30" width="18.2" height="337.50" fill="#5470c6"/><rect x="358.33" y="861.92" width="18.2" height="286.88" fill="#5470c6"/><rect x="385.08" y="811.30" width="18.2" height="337.50" fill="#5470c6"/><rect x="411.84" y="946.30" width="18.2" height="202.50" fill="#5470c6"/><rect x="438.60" y="963.17" width="18.2" height="185.62" fill="#5470c6"/><rect x="465.36" y="1013.80" width="18.2" height="135.00" fill="#5470c6"/><rect x="492.11" y="1064.42" width="18.2" height="84.38" fill="#5470c6"/><rect x="518.87" y="895.67" width="18.2" height="253.12" fill="#5470c6"/><rect x="545.63" y="1030.67" width="18.2" height="118.12" fill="#5470c6"/><rect x="572.39" y="946.30" width="18.2" height="202.50" fill="#5470c6"/><rect x="599.15" y="1047.55" width="18.2" height="101.25" fill="#5470c6"/><rect x="625.90" y="1013.80" width="18.2" height="135.00" fill="#5470c6"/><rect x="652.66" y="946.30" width="18.2" height="202.50" fill="#5470c6"/><rect x="679.42" y="811.30" width="18.2" height="337.50" fill="#5470c6"/><rect x="706.18" y="963.17" width="18.2" height="185.62" fill="#5470c6"/><rect x="732.93" y="980.05" width="18.2" height="168.75" fill="#5470c6"/><rect x="759.69" y="1081.30" width="18.2" height="67.50" fill="#5470c6"/><rect x="786.45" y="811.30" width="18.2" height="337.50" fill="#5470c6"/><rect x="813.21" y="1115.05" width="18.2" height="33.75" fill="#5470c6"/><rect x="839.97" y="861.92" width="18.2" height="286.88" fill="#5470c6"/><rect x="866.72" y="1047.55" width="18.2" height="101.25" fill="#5470c6"/><rect x="893.48" y="996.92" width="18.2" height="151.88" fill="#5470c6"/><rect x="920.24" y="1098.17" width="18.2" height="50.62" fill="#5470c6"/><rect x="947.00" y="1115.05" width="18.2" height="33.75" fill="#5470c6"/><rect x="973.75" y="946.30" width="18.2" height="202.50" fill="#5470c6"/><rect x="1000.51" y="1030.67" width="18.2" height="118.12" fill="#5470c6"/><rect x="1027.27" y="1115.05" width="18.2" height="33.75" fill="#5470c6"/><rect x="1054.03" y="1030.67" width="18.2" height="118.12" fill="#5470c6"/><rect x="1080.79" y="1064.42" width="18.2" height="84.38" fill="#5470c6"/><rect x="1107.54" y="1047.55" width="18.2" height="101.25" fill="#5470c6"/><rect x="1134.30" y="811.30" width="18.2" height="337.50" fill="#5470c6"/><rect x="1161.06" y="963.17" width="18.2" height="185.62" fill="#5470c6"/><rect x="1187.82" y="811.30" width="18.2" height="337.50" fill="#5470c6"/><rect x="1214.57" y="828.17" width="18.2" height="320.62" fill="#5470c6"/><rect x="1241.33" y="929.42" width="18.2" height="219.38" fill="#5470c6"/><rect x="1268.09" y="1013.80" width="18.2" height="135.00" fill="#5470c6"/><rect x="1294.85" y="1030.67" width="18.2" height="118.12" fill="#5470c6"/><rect x="1321.61" y="861.92" width="18.2" height="286.88" fill="#5470c6"/><rect x="1348.36" y="1013.80" width="18.2" height="135.00" fill="#5470c6"/><rect x="1375.12" y="861.92" width="18.2" height="286.88" fill="#5470c6"/><line x1="193.5" y1="1148.8" x2="1397.6" y2="1148.8" stroke="#6e7079" stroke-width="1.25"/><line x1="193.50" y1="1148.8" x2="193.50" y2="1155.05" stroke="#6e7079" stroke-width="1.25"/><line x1="220.26" y1="1148.8" x2="220.26" y2="1155.05" stroke="#6e7079" stroke-width="1.25"/><line x1="247.02" y1="1148.8" x2="247.02" y2="1155.05" stroke="#6e7079" stroke-width="1.25"/><line x1="273.77" y1="1148.8" x2="273.77" y2="1155.05" stroke="#6e7079" stroke-width="1.25"/><line x1="300.53" y1="1148.8" x2="300.53" y2="1155.05" stroke="#6e7079" stroke-width="1.25"/><line x1="327.29" y1="1148.8" x2="327.29" y2="1155.05" stroke="#6e7079" stroke-width="1.25"/><line x1="354.05" y1="1148.8" x2="354.05" y2="1155.05" stroke="#6e7079" stroke-width="1.25"/><line x1="380.80" y1="1148.8" x2="380.80" y2="1155.05" stroke="#6e7079" stroke-width="1.25"/><line x1="407.56" y1="1148.8" x2="407.56" y2="1155.05" stroke="#6e7079" stroke-width="1.25"/><line x1="434.32" y1="1148.8" x2="434.32" y2="1155.05" stroke="#6e7079" stroke-width="1.25"/><line x1="461.08" y1="1148.8" x2="461.08" y2="1155.05" stroke="#6e7079" stroke-width="1.25"/><line x1="487.84" y1="1148.8" x2="487.84" y2="1155.05" stroke="#6e7079" stroke-width="1.25"/><line x1="514.59" y1="1148.8" x2="514.59" y2="1155.05" stroke="#6e7079" stroke-width="1.25"/><line x1="541.35" y1="1148.8" x2="541.35" y2="1155.05" stroke="#6e7079" stroke-width="1.25"/><line x1="568.11" y1="1148.8" x2="568.11" y2="1155.05" stroke="#6e7079" stroke-width="1.25"/><line x1="594.87" y1="1148.8" x2="594.87" y2="1155.05" stroke="#6e7079" stroke-width="1.25"/><line x1="621.62" y1="1148.8" x2="621.62" y2="1155.05" stroke="#6e7079" stroke-width="1.25"/><line x1="648.38" y1="1148.8" x2="648.38" y2="1155.05" stroke="#6e7079" stroke-width="1.25"/><line x1="675.14" y1="1148.8" x2="675.14" y2="1155.05" stroke="#6e7079" stroke-width="1.25"/><line x1="701.90" y1="1148.8" x2="701.90" y2="1155.05" stroke="#6e7079" stroke-width="1.25"/><line x1="728.66" y1="1148.8" x2="728.66" y2="1155.05" stroke="#6e7079" stroke-width="1.25"/><line x1="755.41" y1="1148.8" x2="755.41" y2="1155.05" stroke="#6e7079" stroke-width="1.25"/><line x1="782.17" y1="1148.8" x2="782.17" y2="1155.05" stroke="#6e7079" stroke-width="1.25"/><line x1="808.93" y1="1148.8" x2="808.93" y2="1155.05" stroke="#6e7079" stroke-width="1.25"/><line x1="835.69" y1="1148.8" x2="835.69" y2="1155.05" stroke="#6e7079" stroke-width="1.25"/><line x1="862.44" y1="1148.8" x2="862.44" y2="1155.05" stroke="#6e7079" stroke-width="1.25"/><line x1="889.20" y1="1148.8" x2="889.20" y2="1155.05" stroke="#6e7079" stroke-width="1.25"/><line x1="915.96" y1="1148.8" x2="915.96" y2="1155.05" stroke="#6e7079" stroke-width="1.25"/><line x1="942.72" y1="1148.8" x2="942.72" y2="1155.05" stroke="#6e7079" stroke-width="1.25"/><line x1="969.48" y1="1148.8" x2="969.48" y2="1155.05" stroke="#6e7079" stroke-width="1.25"/><line x1="996.23" y1="1148.8" x2="996.23" y2="1155.05" stroke="#6e7079" stroke-width="1.25"/><line x1="1022.99" y1="1148.8" x2="1022.99" y2="1155.05" stroke="#6e7079" stroke-width="1.25"/><line x1="1049.75" y1="1148.8" x2="1049.75" y2="1155.05" stroke="#6e7079" stroke-width="1.25"/><line x1="1076.51" y1="1148.8" x2="1076.51" y2="1155.05" stroke="#6e7079" stroke-width="1.25"/><line x1="1103.26" y1="1148.8" x2="1103.26" y2="1155.05" stroke="#6e7079" stroke-width="1.25"/><line x1="1130.02" y1="1148.8" x2="1130.02" y2="1155.05" stroke="#6e7079" stroke-width="1.25"/><line x1="1156.78" y1="1148.8" x2="1156.78" y2="1155.05" stroke="#6e7079" stroke-width="1.25"/><line x1="1183.54" y1="1148.8" x2="1183.54" y2="1155.05" stroke="#6e7079" stroke-width="1.25"/><line x1="1210.30" y1="1148.8" x2="1210.30" y2="1155.05" stroke="#6e7079" stroke-width="1.25"/><line x1="1237.05" y1="1148.8" x2="1237.05" y2="1155.05" stroke="#6e7079" stroke-width="1.25"/><line x1="1263.81" y1="1148.8" x2="1263.81" y2="1155.05" stroke="#6e7079" stroke-width="1.25"/><line x1="1290.57" y1="1148.8" x2="1290.57" y2="1155.05" stroke="#6e7079" stroke-width="1.25"/><line x1="1317.33" y1="1148.8" x2="1317.33" y2="1155.05" stroke="#6e7079" stroke-width="1.25"/><line x1="1344.08" y1="1148.8" x2="1344.08" y2="1155.05" stroke="#6e7079" stroke-width="1.25"/><line x1="1370.84" y1="1148.8" x2="1370.84" y2="1155.05" stroke="#6e7079" stroke-width="1.25"/><line x1="1397.60" y1="1148.8" x2="1397.60" y2="1155.05" stroke="#6e7079" stroke-width="1.25"/><text x="206.88" y="1171.80" font-size="15" fill="#6e7079" text-anchor="middle" dominant-baseline="central" font-weight="normal" font-family="'Liberation Sans','Noto Sans CJK SC',sans-serif">刘</text><text x="206.88" y="1200.90" font-size="15" fill="#6e7079" text-anchor="middle" dominant-baseline="central" font-weight="normal" font-family="'Liberation Sans','Noto Sans CJK SC',sans-serif">一</text><text x="233.64" y="1171.80" font-size="15" fill="#6e7079" text-anchor="middle" dominant-baseline="central" font-weight="normal" font-family="'Liberation Sans','Noto Sans CJK SC',sans-serif">陈</text><text x="233.64" y="1200.90" font-size="15" fill="#6e7079" text-anchor="middle" dominant-baseline="central" font-weight="normal" font-family="'Liberation Sans','Noto Sans CJK SC',sans-serif">二</text><text x="260.39" y="1171.80" font-size="15" fill="#6e7079" text-anchor="middle" dominant-baseline="central" font-weight="normal" font-family="'Liberation Sans','Noto Sans CJK SC',sans-serif">张</text><text x="260.39" y="1200.90" font-size="15" fill="#6e7079" text-anchor="middle" dominant-baseline="central" font-weight="normal" font-family="'Liberation Sans','Noto Sans CJK SC',sans-serif">三</text><text x="287.15" y="1171.80" font-size="15" fill="#6e7079" text-anchor="middle" dominant-baseline="central" font-weight="normal" font-family="'Liberation Sans','Noto Sans CJK SC',sans-serif">李</text><text x="287.15" y="1200.90" font-size="15" fill="#6e7079" text-anchor="middle" dominant-baseline="central" font-weight="normal" font-family="'Liberation Sans','Noto Sans CJK SC',sans-serif">四</text><text x="313.91" y="1171.80" font-size="15" fill="#6e7079" text-anchor="middle" dominant-baseline="central" font-weight="normal" font-family="'Liberation Sans','Noto Sans CJK SC',sans-serif">王</text><text x="313.91" y="1200.90" font-size="15" fill="#6e7079" text-anchor="middle" dominant-baseline="central" font-weight="normal" font-family="'Liberation Sans','Noto Sans CJK SC',sans-serif">五</text><text x="340.67" y="1171.80" font-size="15" fill="#6e7079" text-anchor="middle" dominant-baseline="central" font-weight="normal" font-family="'Liberation Sans','Noto Sans CJK SC',sans-serif">赵</text><text x="340.67" y="1200.90" font-size="15" fill="#6e7079" text-anchor="middle" dominant-baseline="central" font-weight="normal" font-family="'Liberation Sans','Noto Sans CJK SC',sans-serif">六</text><text x="367.43" y="1171.80" font-size="15" fill="#6e7079" text-anchor="middle" dominant-baseline="central" font-weight="normal" font-family="'Liberation Sans','Noto Sans CJK SC',sans-serif">陈</text><text x="367.43" y="1200.90" font-size="15" fill="#6e7079" text-anchor="middle" dominant-baseline="central" font-weight="normal" font-family="'Liberation Sans','Noto Sans CJK SC',sans-serif">七</text><text x="394.18" y="1171.80" font-size="15" fill="#6e7079" text-anchor="middle" dominant-baseline="central" font-weight="normal" font-family="'Liberation Sans','Noto Sans CJK SC',sans-serif">周</text><text x="394.18" y="1200.90" font-size="15" fill="#6e7079" text-anchor="middle" dominant-baseline="central" font-weight="normal" font-family="'Liberation Sans','Noto Sans CJK SC',sans-serif">八</text><text x="420.94" y="1171.80" font-size="15" fill="#6e7079" text-anchor="middle" dominant-baseline="central" font-weight="normal" font-family="'Liberation Sans','Noto Sans CJK SC',sans-serif">谢</text><text x="420.94" y="1200.90" font-size="15" fill="#6e7079" text-anchor="middle" dominant-baseline="central" font-weight="normal" font-family="'Liberation Sans','Noto Sans CJK SC',sans-serif">九</text><text x="447.70" y="1171.80" font-size="15" fill="#6e7079" text-anchor="middle" dominant-baseline="central" font-weight="normal" font-family="'Liberation Sans','Noto Sans CJK SC',sans-serif">宋</text><text x="447.70" y="1200.90" font-size="15" fill="#6e7079" text-anchor="middle" dominant-baseline="central" font-weight="normal" font-family="'Liberation Sans','Noto Sans CJK SC',sans-serif">江</text><text x="474.46" y="1171.80" font-size="15" fill="#6e7079" text-anchor="middle" dominant-baseline="central" font-weight="normal" font-family="'Liberation Sans','Noto Sans CJK SC',sans-serif">卢</text><text x="474.46" y="1200.90" font-size="15" fill="#6e7079" text-anchor="middle" dominant-baseline="central" font-weight="normal" font-family="'Liberation Sans','Noto Sans CJK SC',sans-serif">俊</text><text x="474.46" y="1230.00" font-size="15" fill="#6e7079" text-anchor="middle" dominant-baseline="central" font-weight="normal" font-family="'Liberation Sans','Noto Sans CJK SC',sans-serif">义</text><text x="501.21" y="1171.80" font-size="15" fill="#6e7079" text-anchor="middle" dominant-baseline="central" font-weight="normal" font-family="'Liberation Sans','Noto Sans CJK SC',sans-serif">吴</text><text x="501.21" y="1200.90" font-size="15" fill="#6e7079" text-anchor="middle" dominant-baseline="central" font-weight="normal" font-family="'Liberation Sans','Noto Sans CJK SC',sans-serif">用</text><text x="527.97" y="1171.80" font-size="15" fill="#6e7079" text-anchor="middle" dominant-baseline="central" font-weight="normal" font-family="'Liberation Sans','Noto Sans CJK SC',sans-serif">公</text><text x="527.97" y="1200.90" font-size="15" fill="#6e7079" text-anchor="middle" dominant-baseline="central" font-weight="normal" font-family="'Liberation Sans','Noto Sans CJK SC',sans-serif">孙</text><text x="527.97" y="1230.00" font-size="15" fill="#6e7079" text-anchor="middle" dominant-baseline="central" font-weight="normal" font-family="'Liberation Sans','Noto Sans CJK SC',sans-serif">胜</text><text x="554.73" y="1171.80" font-size="15" fill="#6e7079" text-anchor="middle" dominant-baseline="central" font-weight="normal" font-family="'Liberation Sans','Noto Sans CJK SC',sans-serif">关</text><text x="554.73" y="1200.90" font-size="15" fill="#6e7079" text-anchor="middle" dominant-baseline="central" font-weight="normal" font-family="'Liberation Sans','Noto Sans CJK SC',sans-serif">胜</text><text x="581.49" y="1171.80" font-size="15" fill="#6e7079" text-anchor="middle" dominant-baseline="central" font-weight="normal" font-family="'Liberation Sans','Noto Sans CJK SC',sans-serif">林</text><text x="581.49" y="1200.90" font-size="15" fill="#6e7079" text-anchor="middle" dominant-baseline="central" font-weight="normal" font-family="'Liberation Sans','Noto Sans CJK SC',sans-serif">冲</text><text x="608.25" y="1171.80" font-size="15" fill="#6e7079" text-anchor="middle" dominant-baseline="central" font-weight="normal" font-family="'Liberation Sans','Noto Sans CJK SC',sans-serif">秦</text><text x="608.25" y="1200.90" font-size="15" fill="#6e7079" text-anchor="middle" dominant-baseline="central" font-weight="normal" font-family="'Liberation Sans','Noto Sans CJK SC',sans-serif">明</text><text x="635.00" y="1171.80" font-size="15" fill="#6e7079" text-anchor="middle" dominant-baseline="central" font-weight="normal" font-family="'Liberation Sans','Noto Sans CJK SC',sans-serif">呼</text><text x="635.00" y="1200.90" font-size="15" fill="#6e7079" text-anchor="middle" dominant-baseline="central" font-weight="normal" font-family="'Liberation Sans','Noto Sans CJK SC',sans-serif">延</text><text x="635.00" y="1230.00" font-size="15" fill="#6e7079" text-anchor="middle" dominant-baseline="central" font-weight="normal" font-family="'Liberation Sans','Noto Sans CJK SC',sans-serif">灼</text><text x="661.76" y="1171.80" font-size="15" fill="#6e7079" text-anchor="middle" dominant-baseline="central" font-weight="normal" font-family="'Liberation Sans','Noto Sans CJK SC',sans-serif">花</text><text x="661.76" y="1200.90" font-size="15" fill="#6e7079" text-anchor="middle" dominant-baseline="central" font-weight="normal" font-family="'Liberation Sans','Noto Sans CJK SC',sans-serif">荣</text><text x="688.52" y="1171.80" font-size="15" fill="#6e7079" text-anchor="middle" dominant-baseline="central" font-weight="normal" font-family="'Liberation Sans','Noto Sans CJK SC',sans-serif">柴</text><text x="688.52" y="1200.90" font-size="15" fill="#6e7079" text-anchor="middle" dominant-baseline="central" font-weight="normal" font-family="'Liberation Sans','Noto Sans CJK SC',sans-serif">进</text><text x="715.28" y="1171.80" font-size="15" fill="#6e7079" text-anchor="middle" dominant-baseline="central" font-weight="normal" font-family="'Liberation Sans','Noto Sans CJK SC',sans-serif">李</text><text x="715.28" y="1200.90" font-size="15" fill="#6e7079" text-anchor="middle" dominant-baseline="central" font-weight="normal" font-family="'Liberation Sans','Noto Sans CJK SC',sans-serif">应</text><text x="742.03" y="1171.80" font-size="15" fill="#6e7079" text-anchor="middle" dominant-baseline="central" font-weight="normal" font-family="'Liberation Sans','Noto Sans CJK SC',sans-serif">朱</text><text x="742.03" y="1200.90" font-size="15" fill="#6e7079" text-anchor="middle" dominant-baseline="central" font-weight="normal" font-family="'Liberation Sans','Noto Sans CJK SC',sans-serif">仝</text><text x="768.79" y="1171.80" font-size="15" fill="#6e7079" text-anchor="middle" dominant-baseline="central" font-weight="normal" font-family="'Liberation Sans','Noto Sans CJK SC',sans-serif">鲁</text><text x="768.79" y="1200.90" font-size="15" fill="#6e7079" text-anchor="middle" dominant-baseline="central" font-weight="normal" font-family="'Liberation Sans','Noto Sans CJK SC',sans-serif">智</text><text x="768.79" y="1230.00" font-size="15" fill="#6e7079" text-anchor="middle" dominant-baseline="central" font-weight="normal" font-family="'Liberation Sans','Noto Sans CJK SC',sans-serif">深</text><text x="795.55" y="1171.80" font-size="15" fill="#6e7079" text-anchor="middle" dominant-baseline="central" font-weight="normal" font-family="'Liberation Sans','Noto Sans CJK SC',sans-serif">武</text><text x="795.55" y="1200.90" font-size="15" fill="#6e7079" text-anchor="middle" dominant-baseline="central" font-weight="normal" font-family="'Liberation Sans','Noto Sans CJK SC',sans-serif">松</text><text x="822.31" y="1171.80" font-size="15" fill="#6e7079" text-anchor="middle" dominant-baseline="central" font-weight="normal" font-family="'Liberation Sans','Noto Sans CJK SC',sans-serif">董</text><text x="822.31" y="1200.90" font-size="15" fill="#6e7079" text-anchor="middle" dominant-baseline="central" font-weight="normal" font-family="'Liberation Sans','Noto Sans CJK SC',sans-serif">平</text><text x="849.07" y="1171.80" font-size="15" fill="#6e7079" text-anchor="middle" dominant-baseline="central" font-weight="normal" font-family="'Liberation Sans','Noto Sans CJK SC',sans-serif">张</text><text x="849.07" y="1200.90" font-size="15" fill="#6e7079" text-anchor="middle" dominant-baseline="central" font-weight="normal" font-family="'Liberation Sans','Noto Sans CJK SC',sans-serif">清</text><text x="875.82" y="1171.80" font-size="15" fill="#6e7079" text-anchor="middle" dominant-baseline="central" font-weight="normal" font-family="'Liberation Sans','Noto Sans CJK SC',sans-serif">杨</text><text x="875.82" y="1200.90" font-size="15" fill="#6e7079" text-anchor="middle" dominant-baseline="central" font-weight="normal" font-family="'Liberation Sans','Noto Sans CJK SC',sans-serif">志</text><text x="902.58" y="1171.80" font-size="15" fill="#6e7079" text-anchor="middle" dominant-baseline="central" font-weight="normal" font-family="'Liberation Sans','Noto Sans CJK SC',sans-serif">徐</text><text x="902.58" y="1200.90" font-size="15" fill="#6e7079" text-anchor="middle" dominant-baseline="central" font-weight="normal" font-family="'Liberation Sans','Noto Sans CJK SC',sans-serif">宁</text><text x="929.34" y="1171.80" font-size="15" fill="#6e7079" text-anchor="middle" dominant-baseline="central" font-weight="normal" font-family="'Liberation Sans','Noto Sans CJK SC',sans-serif">索</text><text x="929.34" y="1200.90" font-size="15" fill="#6e7079" text-anchor="middle" dominant-baseline="central" font-weight="normal" font-family="'Liberation Sans','Noto Sans CJK SC',sans-serif">超</text><text x="956.10" y="1171.80" font-size="15" fill="#6e7079" text-anchor="middle" dominant-baseline="central" font-weight="normal" font-family="'Liberation Sans','Noto Sans CJK SC',sans-serif">戴</text><text x="956.10" y="1200.90" font-size="15" fill="#6e7079" text-anchor="middle" dominant-baseline="central" font-weight="normal" font-family="'Liberation Sans','Noto Sans CJK SC',sans-serif">宗</text><text x="982.85" y="1171.80" font-size="15" fill="#6e7079" text-anchor="middle" dominant-baseline="central" font-weight="normal" font-family="'Liberation Sans','Noto Sans CJK SC',sans-serif">刘</text><text x="982.85" y="1200.90" font-size="15" fill="#6e7079" text-anchor="middle" dominant-baseline="central" font-weight="normal" font-family="'Liberation Sans','Noto Sans CJK SC',sans-serif">唐</text><text x="1009.61" y="1171.80" font-size="15" fill="#6e7079" text-anchor="middle" dominant-baseline="central" font-weight="normal" font-family="'Liberation Sans','Noto Sans CJK SC',sans-serif">李</text><text x="1009.61" y="1200.90" font-size="15" fill="#6e7079" text-anchor="middle" dominant-baseline="central" font-weight="normal" font-family="'Liberation Sans','Noto Sans CJK SC',sans-serif">逵</text><text x="1036.37" y="1171.80" font-size="15" fill="#6e7079" text-anchor="middle" dominant-baseline="central" font-weight="normal" font-family="'Liberation Sans','Noto Sans CJK SC',sans-serif">史</text><text x="1036.37" y="1200.90" font-size="15" fill="#6e7079" text-anchor="middle" dominant-baseline="central" font-weight="normal" font-family="'Liberation Sans','Noto Sans CJK SC',sans-serif">进</text><text x="1063.13" y="1171.80" font-size="15" fill="#6e7079" text-anchor="middle" dominant-baseline="central" font-weight="normal" font-family="'Liberation Sans','Noto Sans CJK SC',sans-serif">穆</text><text x="1063.13" y="1200.90" font-size="15" fill="#6e7079" text-anchor="middle" dominant-baseline="central" font-weight="normal" font-family="'Liberation Sans','Noto Sans CJK SC',sans-serif">弘</text><text x="1089.89" y="1171.80" font-size="15" fill="#6e7079" text-anchor="middle" dominant-baseline="central" font-weight="normal" font-family="'Liberation Sans','Noto Sans CJK SC',sans-serif">雷</text><text x="1089.89" y="1200.90" font-size="15" fill="#6e7079" text-anchor="middle" dominant-baseline="central" font-weight="normal" font-family="'Liberation Sans','Noto Sans CJK SC',sans-serif">横</text><text x="1116.64" y="1171.80" font-size="15" fill="#6e7079" text-anchor="middle" dominant-baseline="central" font-weight="normal" font-family="'Liberation Sans','Noto Sans CJK SC',sans-serif">李</text><text x="1116.64" y="1200.90" font-size="15" fill="#6e7079" text-anchor="middle" dominant-baseline="central" font-weight="normal" font-family="'Liberation Sans','Noto Sans CJK SC',sans-serif">俊</text><text x="1143.40" y="1171.80" font-size="15" fill="#6e7079" text-anchor="middle" dominant-baseline="central" font-weight="normal" font-family="'Liberation Sans','Noto Sans CJK SC',sans-serif">阮</text><text x="1143.40" y="1200.90" font-size="15" fill="#6e7079" text-anchor="middle" dominant-baseline="central" font-weight="normal" font-family="'Liberation Sans','Noto Sans CJK SC',sans-serif">小</text><text x="1143.40" y="1230.00" font-size="15" fill="#6e7079" text-anchor="middle" dominant-baseline="central" font-weight="normal" font-family="'Liberation Sans','Noto Sans CJK SC',sans-serif">二</text><text x="1170.16" y="1171.80" font-size="15" fill="#6e7079" text-anchor="middle" dominant-baseline="central" font-weight="normal" font-family="'Liberation Sans','Noto Sans CJK SC',sans-serif">张</text><text x="1170.16" y="1200.90" font-size="15" fill="#6e7079" text-anchor="middle" dominant-baseline="central" font-weight="normal" font-family="'Liberation Sans','Noto Sans CJK SC',sans-serif">横</text><text x="1196.92" y="1171.80" font-size="15" fill="#6e7079" text-anchor="middle" dominant-baseline="central" font-weight="normal" font-family="'Liberation Sans','Noto Sans CJK SC',sans-serif">阮</text><text x="1196.92" y="1200.90" font-size="15" fill="#6e7079" text-anchor="middle" dominant-baseline="central" font-weight="normal" font-family="'Liberation Sans','Noto Sans CJK SC',sans-serif">小</text><text x="1196.92" y="1230.00" font-size="15" fill="#6e7079" text-anchor="middle" dominant-baseline="central" font-weight="normal" font-family="'Liberation Sans','Noto Sans CJK SC',sans-serif">五</text><text x="1223.67" y="1171.80" font-size="15" fill="#6e7079" text-anchor="middle" dominant-baseline="central" font-weight="normal" font-family="'Liberation Sans','Noto Sans CJK SC',sans-serif">张</text><text x="1223.67" y="1200.90" font-size="15" fill="#6e7079" text-anchor="middle" dominant-baseline="central" font-weight="normal" font-family="'Liberation Sans','Noto Sans CJK SC',sans-serif">顺</text><text x="1250.43" y="1171.80" font-size="15" fill="#6e7079" text-anchor="middle" dominant-baseline="central" font-weight="normal" font-family="'Liberation Sans','Noto Sans CJK SC',sans-serif">阮</text><text x="1250.43" y="1200.90" font-size="15" fill="#6e7079" text-anchor="middle" dominant-baseline="central" font-weight="normal" font-family="'Liberation Sans','Noto Sans CJK SC',sans-serif">小</text><text x="1250.43" y="1230.00" font-size="15" fill="#6e7079" text-anchor="middle" dominant-baseline="central" font-weight="normal" font-family="'Liberation Sans','Noto Sans CJK SC',sans-serif">七</text><text x="1277.19" y="1171.80" font-size="15" fill="#6e7079" text-anchor="middle" dominant-baseline="central" font-weight="normal" font-family="'Liberation Sans','Noto Sans CJK SC',sans-serif">杨</text><text x="1277.19" y="1200.90" font-size="15" fill="#6e7079" text-anchor="middle" dominant-baseline="central" font-weight="normal" font-family="'Liberation Sans','Noto Sans CJK SC',sans-serif">雄</text><text x="1303.95" y="1171.80" font-size="15" fill="#6e7079" text-anchor="middle" dominant-baseline="central" font-weight="normal" font-family="'Liberation Sans','Noto Sans CJK SC',sans-serif">石</text><text x="1303.95" y="1200.90" font-size="15" fill="#6e7079" text-anchor="middle" dominant-baseline="central" font-weight="normal" font-family="'Liberation Sans','Noto Sans CJK SC',sans-serif">秀</text><text x="1330.71" y="1171.80" font-size="15" fill="#6e7079" text-anchor="middle" dominant-baseline="central" font-weight="normal" font-family="'Liberation Sans','Noto Sans CJK SC',sans-serif">解</text><text x="1330.71" y="1200.90" font-size="15" fill="#6e7079" text-anchor="middle" dominant-baseline="central" font-weight="normal" font-family="'Liberation Sans','Noto Sans CJK SC',sans-serif">珍</text><text x="1357.46" y="1171.80" font-size="15" fill="#6e7079" text-anchor="middle" dominant-baseline="central" font-weight="normal" font-family="'Liberation Sans','Noto Sans CJK SC',sans-serif">解</text><text x="1357.46" y="1200.90" font-size="15" fill="#6e7079" text-anchor="middle" dominant-baseline="central" font-weight="normal" font-family="'Liberation Sans','Noto Sans CJK SC',sans-serif">宝</text><text x="1384.22" y="1171.80" font-size="15" fill="#6e7079" text-anchor="middle" dominant-baseline="central" font-weight="normal" font-family="'Liberation Sans','Noto Sans CJK SC',sans-serif">燕</text><text x="1384.22" y="1200.90" font-size="15" fill="#6e7079" text-anchor="middle" dominant-baseline="central" font-weight="normal" font-family="'Liberation Sans','Noto Sans CJK SC',sans-serif">青</text><text x="206.88" y="839.42" font-size="15" fill="#800080" text-anchor="middle" dominant-baseline="central" font-weight="normal" font-family="'Liberation Sans','Noto Sans CJK SC',sans-serif">17</text><text x="233.64" y="1041.92" font-size="15" fill="#800080" text-anchor="middle" dominant-baseline="central" font-weight="normal" font-family="'Liberation Sans','Noto Sans CJK SC',sans-serif">5</text><text x="260.39" y="957.55" font-size="15" fill="#800080" text-anchor="middle" dominant-baseline="central" font-weight="normal" font-family="'Liberation Sans','Noto Sans CJK SC',sans-serif">10</text><text x="287.15" y="788.80" font-size="15" fill="#800080" text-anchor="middle" dominant-baseline="central" font-weight="normal" font-family="'Liberation Sans','Noto Sans CJK SC',sans-serif">20</text><text x="313.91" y="873.17" font-size="15" fill="#800080" text-anchor="middle" dominant-baseline="central" font-weight="normal" font-family="'Liberation Sans','Noto Sans CJK SC',sans-serif">15</text><text x="340.67" y="788.80" font-size="15" fill="#800080" text-anchor="middle" dominant-baseline="central" font-weight="normal" font-family="'Liberation Sans','Noto Sans CJK SC',sans-serif">20</text><text x="367.43" y="839.42" font-size="15" fill="#800080" text-anchor="middle" dominant-baseline="central" font-weight="normal" font-family="'Liberation Sans','Noto Sans CJK SC',sans-serif">17</text><text x="394.18" y="788.80" font-size="15" fill="#800080" text-anchor="middle" dominant-baseline="central" font-weight="normal" font-family="'Liberation Sans','Noto Sans CJK SC',sans-serif">20</text><text x="420.94" y="923.80" font-size="15" fill="#800080" text-anchor="middle" dominant-baseline="central" font-weight="normal" font-family="'Liberation Sans','Noto Sans CJK SC',sans-serif">12</text><text x="447.70" y="940.67" font-size="15" fill="#800080" text-anchor="middle" dominant-baseline="central" font-weight="normal" font-family="'Liberation Sans','Noto Sans CJK SC',sans-serif">11</text><text x="474.46" y="991.30" font-size="15" fill="#800080" text-anchor="middle" dominant-baseline="central" font-weight="normal" font-family="'Liberation Sans','Noto Sans CJK SC',sans-serif">8</text><text x="501.21" y="1041.92" font-size="15" fill="#800080" text-anchor="middle" dominant-baseline="central" font-weight="normal" font-family="'Liberation Sans','Noto Sans CJK SC',sans-serif">5</text><text x="527.97" y="873.17" font-size="15" fill="#800080" text-anchor="middle" dominant-baseline="central" font-weight="normal" font-family="'Liberation Sans','Noto Sans CJK SC',sans-serif">15</text><text x="554.73" y="1008.17" font-size="15" fill="#800080" text-anchor="middle" dominant-baseline="central" font-weight="normal" font-family="'Liberation Sans','Noto Sans CJK SC',sans-serif">7</text><text x="581.49" y="923.80" font-size="15" fill="#800080" text-anchor="middle" dominant-baseline="central" font-weight="normal" font-family="'Liberation Sans','Noto Sans CJK SC',sans-serif">12</text><text x="608.25" y="1025.05" font-size="15" fill="#800080" text-anchor="middle" dominant-baseline="central" font-weight="normal" font-family="'Liberation Sans','Noto Sans CJK SC',sans-serif">6</text><text x="635.00" y="991.30" font-size="15" fill="#800080" text-anchor="middle" dominant-baseline="central" font-weight="normal" font-family="'Liberation Sans','Noto Sans CJK SC',sans-serif">8</text><text x="661.76" y="923.80" font-size="15" fill="#800080" text-anchor="middle" dominant-baseline="central" font-weight="normal" font-family="'Liberation Sans','Noto Sans CJK SC',sans-serif">12</text><text x="688.52" y="788.80" font-size="15" fill="#800080" text-anchor="middle" dominant-baseline="central" font-weight="normal" font-family="'Liberation Sans','Noto Sans CJK SC',sans-serif">20</text><text x="715.28" y="940.67" font-size="15" fill="#800080" text-anchor="middle" dominant-baseline="central" font-weight="normal" font-family="'Liberation Sans','Noto Sans CJK SC',sans-serif">11</text><text x="742.03" y="957.55" font-size="15" fill="#800080" text-anchor="middle" dominant-baseline="central" font-weight="normal" font-family="'Liberation Sans','Noto Sans CJK SC',sans-serif">10</text><text x="768.79" y="1058.80" font-size="15" fill="#800080" text-anchor="middle" dominant-baseline="central" font-weight="normal" font-family="'Liberation Sans','Noto Sans CJK SC',sans-serif">4</text><text x="795.55" y="788.80" font-size="15" fill="#800080" text-anchor="middle" dominant-baseline="central" font-weight="normal" font-family="'Liberation Sans','Noto Sans CJK SC',sans-serif">20</text><text x="822.31" y="1092.55" font-size="15" fill="#800080" text-anchor="middle" dominant-baseline="central" font-weight="normal" font-family="'Liberation Sans','Noto Sans CJK SC',sans-serif">2</text><text x="849.07" y="839.42" font-size="15" fill="#800080" text-anchor="middle" dominant-baseline="central" font-weight="normal" font-family="'Liberation Sans','Noto Sans CJK SC',sans-serif">17</text><text x="875.82" y="1025.05" font-size="15" fill="#800080" text-anchor="middle" dominant-baseline="central" font-weight="normal" font-family="'Liberation Sans','Noto Sans CJK SC',sans-serif">6</text><text x="902.58" y="974.42" font-size="15" fill="#800080" text-anchor="middle" dominant-baseline="central" font-weight="normal" font-family="'Liberation Sans','Noto Sans CJK SC',sans-serif">9</text><text x="929.34" y="1075.67" font-size="15" fill="#800080" text-anchor="middle" dominant-baseline="central" font-weight="normal" font-family="'Liberation Sans','Noto Sans CJK SC',sans-serif">3</text><text x="956.10" y="1092.55" font-size="15" fill="#800080" text-anchor="middle" dominant-baseline="central" font-weight="normal" font-family="'Liberation Sans','Noto Sans CJK SC',sans-serif">2</text><text x="982.85" y="923.80" font-size="15" fill="#800080" text-anchor="middle" dominant-baseline="central" font-weight="normal" font-family="'Liberation Sans','Noto Sans CJK SC',sans-serif">12</text><text x="1009.61" y="1008.17" font-size="15" fill="#800080" text-anchor="middle" dominant-baseline="central" font-weight="normal" font-family="'Liberation Sans','Noto Sans CJK SC',sans-serif">7</text><text x="1036.37" y="1092.55" font-size="15" fill="#800080" text-anchor="middle" dominant-baseline="central" font-weight="normal" font-family="'Liberation Sans','Noto Sans CJK SC',sans-serif">2</text><text x="1063.13" y="1008.17" font-size="15" fill="#800080" text-anchor="middle" dominant-baseline="central" font-weight="normal" font-family="'Liberation Sans','Noto Sans CJK SC',sans-serif">7</text><text x="1089.89" y="1041.92" font-size="15" fill="#800080" text-anchor="middle" dominant-baseline="central" font-weight="normal" font-family="'Liberation Sans','Noto Sans CJK SC',sans-serif">5</text><text x="1116.64" y="1025.05" font-size="15" fill="#800080" text-anchor="middle" dominant-baseline="central" font-weight="normal" font-family="'Liberation Sans','Noto Sans CJK SC',sans-serif">6</text><text x="1143.40" y="788.80" font-size="15" fill="#800080" text-anchor="middle" dominant-baseline="central" font-weight="normal" font-family="'Liberation Sans','Noto Sans CJK SC',sans-serif">20</text><text x="1170.16" y="940.67" font-size="15" fill="#800080" text-anchor="middle" dominant-baseline="central" font-weight="normal" font-family="'Liberation Sans','Noto Sans CJK SC',sans-serif">11</text><text x="1196.92" y="788.80" font-size="15" fill="#800080" text-anchor="middle" dominant-baseline="central" font-weight="normal" font-family="'Liberation Sans','Noto Sans CJK SC',sans-serif">20</text><text x="1223.67" y="805.67" font-size="15" fill="#800080" text-anchor="middle" dominant-baseline="central" font-weight="normal" font-family="'Liberation Sans','Noto Sans CJK SC',sans-serif">19</text><text x="1250.43" y="906.92" font-size="15" fill="#800080" text-anchor="middle" dominant-baseline="central" font-weight="normal" font-family="'Liberation Sans','Noto Sans CJK SC',sans-serif">13</text><text x="1277.19" y="991.30" font-size="15" fill="#800080" text-anchor="middle" dominant-baseline="central" font-weight="normal" font-family="'Liberation Sans','Noto Sans CJK SC',sans-serif">8</text><text x="1303.95" y="1008.17" font-size="15" fill="#800080" text-anchor="middle" dominant-baseline="central" font-weight="normal" font-family="'Liberation Sans','Noto Sans CJK SC',sans-serif">7</text><text x="1330.71" y="839.42" font-size="15" fill="#800080" text-anchor="middle" dominant-baseline="central" font-weight="normal" font-family="'Liberation Sans','Noto Sans CJK SC',sans-serif">17</text><text x="1357.46" y="991.30" font-size="15" fill="#800080" text-anchor="middle" dominant-baseline="central" font-weight="normal" font-family="'Liberation Sans','Noto Sans CJK SC',sans-serif">8</text><text x="1384.22" y="839.42" font-size="15" fill="#800080" text-anchor="middle" dominant-baseline="central" font-weight="normal" font-family="'Liberation Sans','Noto Sans CJK SC',sans-serif">17</text></svg>
<svg class="a" style="left:0;top:1227px" width="1660" height="513" viewBox="0 1227 1660 513"><text x="49.50" y="1267.60" font-size="22.5" fill="#464646" text-anchor="start" dominant-baseline="central" font-weight="bold" font-family="'Liberation Sans','Noto Sans CJK SC',sans-serif">考点成绩统计折线图</text><line x1="193.5" y1="1569.23" x2="1397.6" y2="1569.23" stroke="#e0e6f1" stroke-width="1.25"/><line x1="193.5" y1="1484.75" x2="1397.6" y2="1484.75" stroke="#e0e6f1" stroke-width="1.25"/><line x1="193.5" y1="1400.28" x2="1397.6" y2="1400.28" stroke="#e0e6f1" stroke-width="1.25"/><line x1="193.5" y1="1315.80" x2="1397.6" y2="1315.80" stroke="#e0e6f1" stroke-width="1.25"/><text x="182.80" y="1651.20" font-size="15" fill="#6e7079" text-anchor="end" dominant-baseline="central" font-weight="normal" font-family="'Liberation Sans','Noto Sans CJK SC',sans-serif">0</text><text x="182.80" y="1566.73" font-size="15" fill="#6e7079" text-anchor="end" dominant-baseline="central" font-weight="normal" font-family="'Liberation Sans','Noto Sans CJK SC',sans-serif">5</text><text x="182.80" y="1482.25" font-size="15" fill="#6e7079" text-anchor="end" dominant-baseline="central" font-weight="normal" font-family="'Liberation Sans','Noto Sans CJK SC',sans-serif">10</text><text x="182.80" y="1397.78" font-size="15" fill="#6e7079" text-anchor="end" dominant-baseline="central" font-weight="normal" font-family="'Liberation Sans','Noto Sans CJK SC',sans-serif">15</text><text x="182.80" y="1313.30" font-size="15" fill="#6e7079" text-anchor="end" dominant-baseline="central" font-weight="normal" font-family="'Liberation Sans','Noto Sans CJK SC',sans-serif">20</text><line x1="193.5" y1="1653.7" x2="1397.6" y2="1653.7" stroke="#6e7079" stroke-width="1.25"/><line x1="193.50" y1="1653.7" x2="193.50" y2="1659.95" stroke="#6e7079" stroke-width="1.25"/><line x1="220.26" y1="1653.7" x2="220.26" y2="1659.95" stroke="#6e7079" stroke-width="1.25"/><line x1="247.02" y1="1653.7" x2="247.02" y2="1659.95" stroke="#6e7079" stroke-width="1.25"/><line x1="273.77" y1="1653.7" x2="273.77" y2="1659.95" stroke="#6e7079" stroke-width="1.25"/><line x1="300.53" y1="1653.7" x2="300.53" y2="1659.95" stroke="#6e7079" stroke-width="1.25"/><line x1="327.29" y1="1653.7" x2="327.29" y2="1659.95" stroke="#6e7079" stroke-width="1.25"/><line x1="354.05" y1="1653.7" x2="354.05" y2="1659.95" stroke="#6e7079" stroke-width="1.25"/><line x1="380.80" y1="1653.7" x2="380.80" y2="1659.95" stroke="#6e7079" stroke-width="1.25"/><line x1="407.56" y1="1653.7" x2="407.56" y2="1659.95" stroke="#6e7079" stroke-width="1.25"/><line x1="434.32" y1="1653.7" x2="434.32" y2="1659.95" stroke="#6e7079" stroke-width="1.25"/><line x1="461.08" y1="1653.7" x2="461.08" y2="1659.95" stroke="#6e7079" stroke-width="1.25"/><line x1="487.84" y1="1653.7" x2="487.84" y2="1659.95" stroke="#6e7079" stroke-width="1.25"/><line x1="514.59" y1="1653.7" x2="514.59" y2="1659.95" stroke="#6e7079" stroke-width="1.25"/><line x1="541.35" y1="1653.7" x2="541.35" y2="1659.95" stroke="#6e7079" stroke-width="1.25"/><line x1="568.11" y1="1653.7" x2="568.11" y2="1659.95" stroke="#6e7079" stroke-width="1.25"/><line x1="594.87" y1="1653.7" x2="594.87" y2="1659.95" stroke="#6e7079" stroke-width="1.25"/><line x1="621.62" y1="1653.7" x2="621.62" y2="1659.95" stroke="#6e7079" stroke-width="1.25"/><line x1="648.38" y1="1653.7" x2="648.38" y2="1659.95" stroke="#6e7079" stroke-width="1.25"/><line x1="675.14" y1="1653.7" x2="675.14" y2="1659.95" stroke="#6e7079" stroke-width="1.25"/><line x1="701.90" y1="1653.7" x2="701.90" y2="1659.95" stroke="#6e7079" stroke-width="1.25"/><line x1="728.66" y1="1653.7" x2="728.66" y2="1659.95" stroke="#6e7079" stroke-width="1.25"/><line x1="755.41" y1="1653.7" x2="755.41" y2="1659.95" stroke="#6e7079" stroke-width="1.25"/><line x1="782.17" y1="1653.7" x2="782.17" y2="1659.95" stroke="#6e7079" stroke-width="1.25"/><line x1="808.93" y1="1653.7" x2="808.93" y2="1659.95" stroke="#6e7079" stroke-width="1.25"/><line x1="835.69" y1="1653.7" x2="835.69" y2="1659.95" stroke="#6e7079" stroke-width="1.25"/><line x1="862.44" y1="1653.7" x2="862.44" y2="1659.95" stroke="#6e7079" stroke-width="1.25"/><line x1="889.20" y1="1653.7" x2="889.20" y2="1659.95" stroke="#6e7079" stroke-width="1.25"/><line x1="915.96" y1="1653.7" x2="915.96" y2="1659.95" stroke="#6e7079" stroke-width="1.25"/><line x1="942.72" y1="1653.7" x2="942.72" y2="1659.95" stroke="#6e7079" stroke-width="1.25"/><line x1="969.48" y1="1653.7" x2="969.48" y2="1659.95" stroke="#6e7079" stroke-width="1.25"/><line x1="996.23" y1="1653.7" x2="996.23" y2="1659.95" stroke="#6e7079" stroke-width="1.25"/><line x1="1022.99" y1="1653.7" x2="1022.99" y2="1659.95" stroke="#6e7079" stroke-width="1.25"/><line x1="1049.75" y1="1653.7" x2="1049.75" y2="1659.95" stroke="#6e7079" stroke-width="1.25"/><line x1="1076.51" y1="1653.7" x2="1076.51" y2="1659.95" stroke="#6e7079" stroke-width="1.25"/><line x1="1103.26" y1="1653.7" x2="1103.26" y2="1659.95" stroke="#6e7079" stroke-width="1.25"/><line x1="1130.02" y1="1653.7" x2="1130.02" y2="1659.95" stroke="#6e7079" stroke-width="1.25"/><line x1="1156.78" y1="1653.7" x2="1156.78" y2="1659.95" stroke="#6e7079" stroke-width="1.25"/><line x1="1183.54" y1="1653.7" x2="1183.54" y2="1659.95" stroke="#6e7079" stroke-width="1.25"/><line x1="1210.30" y1="1653.7" x2="1210.30" y2="1659.95" stroke="#6e7079" stroke-width="1.25"/><line x1="1237.05" y1="1653.7" x2="1237.05" y2="1659.95" stroke="#6e7079" stroke-width="1.25"/><line x1="1263.81" y1="1653.7" x2="1263.81" y2="1659.95" stroke="#6e7079" stroke-width="1.25"/><line x1="1290.57" y1="1653.7" x2="1290.57" y2="1659.95" stroke="#6e7079" stroke-width="1.25"/><line x1="1317.33" y1="1653.7" x2="1317.33" y2="1659.95" stroke="#6e7079" stroke-width="1.25"/><line x1="1344.08" y1="1653.7" x2="1344.08" y2="1659.95" stroke="#6e7079" stroke-width="1.25"/><line x1="1370.84" y1="1653.7" x2="1370.84" y2="1659.95" stroke="#6e7079" stroke-width="1.25"/><line x1="1397.60" y1="1653.7" x2="1397.60" y2="1659.95" stroke="#6e7079" stroke-width="1.25"/><text x="206.88" y="1676.70" font-size="15" fill="#6e7079" text-anchor="middle" dominant-baseline="central" font-weight="normal" font-family="'Liberation Sans','Noto Sans CJK SC',sans-serif">刘</text><text x="206.88" y="1705.80" font-size="15" fill="#6e7079" text-anchor="middle" dominant-baseline="central" font-weight="normal" font-family="'Liberation Sans','Noto Sans CJK SC',sans-serif">一</text><text x="233.64" y="1676.70" font-size="15" fill="#6e7079" text-anchor="middle" dominant-baseline="central" font-weight="normal" font-family="'Liberation Sans','Noto Sans CJK SC',sans-serif">陈</text><text x="233.64" y="1705.80" font-size="15" fill="#6e7079" text-anchor="middle" dominant-baseline="central" font-weight="normal" font-family="'Liberation Sans','Noto Sans CJK SC',sans-serif">二</text><text x="260.39" y="1676.70" font-size="15" fill="#6e7079" text-anchor="middle" dominant-baseline="central" font-weight="normal" font-family="'Liberation Sans','Noto Sans CJK SC',sans-serif">张</text><text x="260.39" y="1705.80" font-size="15" fill="#6e7079" text-anchor="middle" dominant-baseline="central" font-weight="normal" font-family="'Liberation Sans','Noto Sans CJK SC',sans-serif">三</text><text x="287.15" y="1676.70" font-size="15" fill="#6e7079" text-anchor="middle" dominant-baseline="central" font-weight="normal" font-family="'Liberation Sans','Noto Sans CJK SC',sans-serif">李</text><text x="287.15" y="1705.80" font-size="15" fill="#6e7079" text-anchor="middle" dominant-baseline="central" font-weight="normal" font-family="'Liberation Sans','Noto Sans CJK SC',sans-serif">四</text><text x="313.91" y="1676.70" font-size="15" fill="#6e7079" text-anchor="middle" dominant-baseline="central" font-weight="normal" font-family="'Liberation Sans','Noto Sans CJK SC',sans-serif">王</text><text x="313.91" y="1705.80" font-size="15" fill="#6e7079" text-anchor="middle" dominant-baseline="central" font-weight="normal" font-family="'Liberation Sans','Noto Sans CJK SC',sans-serif">五</text><text x="340.67" y="1676.70" font-size="15" fill="#6e7079" text-anchor="middle" dominant-baseline="central" font-weight="normal" font-family="'Liberation Sans','Noto Sans CJK SC',sans-serif">赵</text><text x="340.67" y="1705.80" font-size="15" fill="#6e7079" text-anchor="middle" dominant-baseline="central" font-weight="normal" font-family="'Liberation Sans','Noto Sans CJK SC',sans-serif">六</text><text x="367.43" y="1676.70" font-size="15" fill="#6e7079" text-anchor="middle" dominant-baseline="central" font-weight="normal" font-family="'Liberation Sans','Noto Sans CJK SC',sans-serif">陈</text><text x="367.43" y="1705.80" font-size="15" fill="#6e7079" text-anchor="middle" dominant-baseline="central" font-weight="normal" font-family="'Liberation Sans','Noto Sans CJK SC',sans-serif">七</text><text x="394.18" y="1676.70" font-size="15" fill="#6e7079" text-anchor="middle" dominant-baseline="central" font-weight="normal" font-family="'Liberation Sans','Noto Sans CJK SC',sans-serif">周</text><text x="394.18" y="1705.80" font-size="15" fill="#6e7079" text-anchor="middle" dominant-baseline="central" font-weight="normal" font-family="'Liberation Sans','Noto Sans CJK SC',sans-serif">八</text><text x="420.94" y="1676.70" font-size="15" fill="#6e7079" text-anchor="middle" dominant-baseline="central" font-weight="normal" font-family="'Liberation Sans','Noto Sans CJK SC',sans-serif">谢</text><text x="420.94" y="1705.80" font-size="15" fill="#6e7079" text-anchor="middle" dominant-baseline="central" font-weight="normal" font-family="'Liberation Sans','Noto Sans CJK SC',sans-serif">九</text><text x="447.70" y="1676.70" font-size="15" fill="#6e7079" text-anchor="middle" dominant-baseline="central" font-weight="normal" font-family="'Liberation Sans','Noto Sans CJK SC',sans-serif">宋</text><text x="447.70" y="1705.80" font-size="15" fill="#6e7079" text-anchor="middle" dominant-baseline="central" font-weight="normal" font-family="'Liberation Sans','Noto Sans CJK SC',sans-serif">江</text><text x="474.46" y="1676.70" font-size="15" fill="#6e7079" text-anchor="middle" dominant-baseline="central" font-weight="normal" font-family="'Liberation Sans','Noto Sans CJK SC',sans-serif">卢</text><text x="474.46" y="1705.80" font-size="15" fill="#6e7079" text-anchor="middle" dominant-baseline="central" font-weight="normal" font-family="'Liberation Sans','Noto Sans CJK SC',sans-serif">俊</text><text x="474.46" y="1734.90" font-size="15" fill="#6e7079" text-anchor="middle" dominant-baseline="central" font-weight="normal" font-family="'Liberation Sans','Noto Sans CJK SC',sans-serif">义</text><text x="501.21" y="1676.70" font-size="15" fill="#6e7079" text-anchor="middle" dominant-baseline="central" font-weight="normal" font-family="'Liberation Sans','Noto Sans CJK SC',sans-serif">吴</text><text x="501.21" y="1705.80" font-size="15" fill="#6e7079" text-anchor="middle" dominant-baseline="central" font-weight="normal" font-family="'Liberation Sans','Noto Sans CJK SC',sans-serif">用</text><text x="527.97" y="1676.70" font-size="15" fill="#6e7079" text-anchor="middle" dominant-baseline="central" font-weight="normal" font-family="'Liberation Sans','Noto Sans CJK SC',sans-serif">公</text><text x="527.97" y="1705.80" font-size="15" fill="#6e7079" text-anchor="middle" dominant-baseline="central" font-weight="normal" font-family="'Liberation Sans','Noto Sans CJK SC',sans-serif">孙</text><text x="527.97" y="1734.90" font-size="15" fill="#6e7079" text-anchor="middle" dominant-baseline="central" font-weight="normal" font-family="'Liberation Sans','Noto Sans CJK SC',sans-serif">胜</text><text x="554.73" y="1676.70" font-size="15" fill="#6e7079" text-anchor="middle" dominant-baseline="central" font-weight="normal" font-family="'Liberation Sans','Noto Sans CJK SC',sans-serif">关</text><text x="554.73" y="1705.80" font-size="15" fill="#6e7079" text-anchor="middle" dominant-baseline="central" font-weight="normal" font-family="'Liberation Sans','Noto Sans CJK SC',sans-serif">胜</text><text x="581.49" y="1676.70" font-size="15" fill="#6e7079" text-anchor="middle" dominant-baseline="central" font-weight="normal" font-family="'Liberation Sans','Noto Sans CJK SC',sans-serif">林</text><text x="581.49" y="1705.80" font-size="15" fill="#6e7079" text-anchor="middle" dominant-baseline="central" font-weight="normal" font-family="'Liberation Sans','Noto Sans CJK SC',sans-serif">冲</text><text x="608.25" y="1676.70" font-size="15" fill="#6e7079" text-anchor="middle" dominant-baseline="central" font-weight="normal" font-family="'Liberation Sans','Noto Sans CJK SC',sans-serif">秦</text><text x="608.25" y="1705.80" font-size="15" fill="#6e7079" text-anchor="middle" dominant-baseline="central" font-weight="normal" font-family="'Liberation Sans','Noto Sans CJK SC',sans-serif">明</text><text x="635.00" y="1676.70" font-size="15" fill="#6e7079" text-anchor="middle" dominant-baseline="central" font-weight="normal" font-family="'Liberation Sans','Noto Sans CJK SC',sans-serif">呼</text><text x="635.00" y="1705.80" font-size="15" fill="#6e7079" text-anchor="middle" dominant-baseline="central" font-weight="normal" font-family="'Liberation Sans','Noto Sans CJK SC',sans-serif">延</text><text x="635.00" y="1734.90" font-size="15" fill="#6e7079" text-anchor="middle" dominant-baseline="central" font-weight="normal" font-family="'Liberation Sans','Noto Sans CJK SC',sans-serif">灼</text><text x="661.76" y="1676.70" font-size="15" fill="#6e7079" text-anchor="middle" dominant-baseline="central" font-weight="normal" font-family="'Liberation Sans','Noto Sans CJK SC',sans-serif">花</text><text x="661.76" y="1705.80" font-size="15" fill="#6e7079" text-anchor="middle" dominant-baseline="central" font-weight="normal" font-family="'Liberation Sans','Noto Sans CJK SC',sans-serif">荣</text><text x="688.52" y="1676.70" font-size="15" fill="#6e7079" text-anchor="middle" dominant-baseline="central" font-weight="normal" font-family="'Liberation Sans','Noto Sans CJK SC',sans-serif">柴</text><text x="688.52" y="1705.80" font-size="15" fill="#6e7079" text-anchor="middle" dominant-baseline="central" font-weight="normal" font-family="'Liberation Sans','Noto Sans CJK SC',sans-serif">进</text><text x="715.28" y="1676.70" font-size="15" fill="#6e7079" text-anchor="middle" dominant-baseline="central" font-weight="normal" font-family="'Liberation Sans','Noto Sans CJK SC',sans-serif">李</text><text x="715.28" y="1705.80" font-size="15" fill="#6e7079" text-anchor="middle" dominant-baseline="central" font-weight="normal" font-family="'Liberation Sans','Noto Sans CJK SC',sans-serif">应</text><text x="742.03" y="1676.70" font-size="15" fill="#6e7079" text-anchor="middle" dominant-baseline="central" font-weight="normal" font-family="'Liberation Sans','Noto Sans CJK SC',sans-serif">朱</text><text x="742.03" y="1705.80" font-size="15" fill="#6e7079" text-anchor="middle" dominant-baseline="central" font-weight="normal" font-family="'Liberation Sans','Noto Sans CJK SC',sans-serif">仝</text><text x="768.79" y="1676.70" font-size="15" fill="#6e7079" text-anchor="middle" dominant-baseline="central" font-weight="normal" font-family="'Liberation Sans','Noto Sans CJK SC',sans-serif">鲁</text><text x="768.79" y="1705.80" font-size="15" fill="#6e7079" text-anchor="middle" dominant-baseline="central" font-weight="normal" font-family="'Liberation Sans','Noto Sans CJK SC',sans-serif">智</text><text x="768.79" y="1734.90" font-size="15" fill="#6e7079" text-anchor="middle" dominant-baseline="central" font-weight="normal" font-family="'Liberation Sans','Noto Sans CJK SC',sans-serif">深</text><text x="795.55" y="1676.70" font-size="15" fill="#6e7079" text-anchor="middle" dominant-baseline="central" font-weight="normal" font-family="'Liberation Sans','Noto Sans CJK SC',sans-serif">武</text><text x="795.55" y="1705.80" font-size="15" fill="#6e7079" text-anchor="middle" dominant-baseline="central" font-weight="normal" font-family="'Liberation Sans','Noto Sans CJK SC',sans-serif">松</text><text x="822.31" y="1676.70" font-size="15" fill="#6e7079" text-anchor="middle" dominant-baseline="central" font-weight="normal" font-family="'Liberation Sans','Noto Sans CJK SC',sans-serif">董</text><text x="822.31" y="1705.80" font-size="15" fill="#6e7079" text-anchor="middle" dominant-baseline="central" font-weight="normal" font-family="'Liberation Sans','Noto Sans CJK SC',sans-serif">平</text><text x="849.07" y="1676.70" font-size="15" fill="#6e7079" text-anchor="middle" dominant-baseline="central" font-weight="normal" font-family="'Liberation Sans','Noto Sans CJK SC',sans-serif">张</text><text x="849.07" y="1705.80" font-size="15" fill="#6e7079" text-anchor="middle" dominant-baseline="central" font-weight="normal" font-family="'Liberation Sans','Noto Sans CJK SC',sans-serif">清</text><text x="875.82" y="1676.70" font-size="15" fill="#6e7079" text-anchor="middle" dominant-baseline="central" font-weight="normal" font-family="'Liberation Sans','Noto Sans CJK SC',sans-serif">杨</text><text x="875.82" y="1705.80" font-size="15" fill="#6e7079" text-anchor="middle" dominant-baseline="central" font-weight="normal" font-family="'Liberation Sans','Noto Sans CJK SC',sans-serif">志</text><text x="902.58" y="1676.70" font-size="15" fill="#6e7079" text-anchor="middle" dominant-baseline="central" font-weight="normal" font-family="'Liberation Sans','Noto Sans CJK SC',sans-serif">徐</text><text x="902.58" y="1705.80" font-size="15" fill="#6e7079" text-anchor="middle" dominant-baseline="central" font-weight="normal" font-family="'Liberation Sans','Noto Sans CJK SC',sans-serif">宁</text><text x="929.34" y="1676.70" font-size="15" fill="#6e7079" text-anchor="middle" dominant-baseline="central" font-weight="normal" font-family="'Liberation Sans','Noto Sans CJK SC',sans-serif">索</text><text x="929.34" y="1705.80" font-size="15" fill="#6e7079" text-anchor="middle" dominant-baseline="central" font-weight="normal" font-family="'Liberation Sans','Noto Sans CJK SC',sans-serif">超</text><text x="956.10" y="1676.70" font-size="15" fill="#6e7079" text-anchor="middle" dominant-baseline="central" font-weight="normal" font-family="'Liberation Sans','Noto Sans CJK SC',sans-serif">戴</text><text x="956.10" y="1705.80" font-size="15" fill="#6e7079" text-anchor="middle" dominant-baseline="central" font-weight="normal" font-family="'Liberation Sans','Noto Sans CJK SC',sans-serif">宗</text><text x="982.85" y="1676.70" font-size="15" fill="#6e7079" text-anchor="middle" dominant-baseline="central" font-weight="normal" font-family="'Liberation Sans','Noto Sans CJK SC',sans-serif">刘</text><text x="982.85" y="1705.80" font-size="15" fill="#6e7079" text-anchor="middle" dominant-baseline="central" font-weight="normal" font-family="'Liberation Sans','Noto Sans CJK SC',sans-serif">唐</text><text x="1009.61" y="1676.70" font-size="15" fill="#6e7079" text-anchor="middle" dominant-baseline="central" font-weight="normal" font-family="'Liberation Sans','Noto Sans CJK SC',sans-serif">李</text><text x="1009.61" y="1705.80" font-size="15" fill="#6e7079" text-anchor="middle" dominant-baseline="central" font-weight="normal" font-family="'Liberation Sans','Noto Sans CJK SC',sans-serif">逵</text><text x="1036.37" y="1676.70" font-size="15" fill="#6e7079" text-anchor="middle" dominant-baseline="central" font-weight="normal" font-family="'Liberation Sans','Noto Sans CJK SC',sans-serif">史</text><text x="1036.37" y="1705.80" font-size="15" fill="#6e7079" text-anchor="middle" dominant-baseline="central" font-weight="normal" font-family="'Liberation Sans','Noto Sans CJK SC',sans-serif">进</text><text x="1063.13" y="1676.70" font-size="15" fill="#6e7079" text-anchor="middle" dominant-baseline="central" font-weight="normal" font-family="'Liberation Sans','Noto Sans CJK SC',sans-serif">穆</text><text x="1063.13" y="1705.80" font-size="15" fill="#6e7079" text-anchor="middle" dominant-baseline="central" font-weight="normal" font-family="'Liberation Sans','Noto Sans CJK SC',sans-serif">弘</text><text x="1089.89" y="1676.70" font-size="15" fill="#6e7079" text-anchor="middle" dominant-baseline="central" font-weight="normal" font-family="'Liberation Sans','Noto Sans CJK SC',sans-serif">雷</text><text x="1089.89" y="1705.80" font-size="15" fill="#6e7079" text-anchor="middle" dominant-baseline="central" font-weight="normal" font-family="'Liberation Sans','Noto Sans CJK SC',sans-serif">横</text><text x="1116.64" y="1676.70" font-size="15" fill="#6e7079" text-anchor="middle" dominant-baseline="central" font-weight="normal" font-family="'Liberation Sans','Noto Sans CJK SC',sans-serif">李</text><text x="1116.64" y="1705.80" font-size="15" fill="#6e7079" text-anchor="middle" dominant-baseline="central" font-weight="normal" font-family="'Liberation Sans','Noto Sans CJK SC',sans-serif">俊</text><text x="1143.40" y="1676.70" font-size="15" fill="#6e7079" text-anchor="middle" dominant-baseline="central" font-weight="normal" font-family="'Liberation Sans','Noto Sans CJK SC',sans-serif">阮</text><text x="1143.40" y="1705.80" font-size="15" fill="#6e7079" text-anchor="middle" dominant-baseline="central" font-weight="normal" font-family="'Liberation Sans','Noto Sans CJK SC',sans-serif">小</text><text x="1143.40" y="1734.90" font-size="15" fill="#6e7079" text-anchor="middle" dominant-baseline="central" font-weight="normal" font-family="'Liberation Sans','Noto Sans CJK SC',sans-serif">二</text><text x="1170.16" y="1676.70" font-size="15" fill="#6e7079" text-anchor="middle" dominant-baseline="central" font-weight="normal" font-family="'Liberation Sans','Noto Sans CJK SC',sans-serif">张</text><text x="1170.16" y="1705.80" font-size="15" fill="#6e7079" text-anchor="middle" dominant-baseline="central" font-weight="normal" font-family="'Liberation Sans','Noto Sans CJK SC',sans-serif">横</text><text x="1196.92" y="1676.70" font-size="15" fill="#6e7079" text-anchor="middle" dominant-baseline="central" font-weight="normal" font-family="'Liberation Sans','Noto Sans CJK SC',sans-serif">阮</text><text x="1196.92" y="1705.80" font-size="15" fill="#6e7079" text-anchor="middle" dominant-baseline="central" font-weight="normal" font-family="'Liberation Sans','Noto Sans CJK SC',sans-serif">小</text><text x="1196.92" y="1734.90" font-size="15" fill="#6e7079" text-anchor="middle" dominant-baseline="central" font-weight="normal" font-family="'Liberation Sans','Noto Sans CJK SC',sans-serif">五</text><text x="1223.67" y="1676.70" font-size="15" fill="#6e7079" text-anchor="middle" dominant-baseline="central" font-weight="normal" font-family="'Liberation Sans','Noto Sans CJK SC',sans-serif">张</text><text x="1223.67" y="1705.80" font-size="15" fill="#6e7079" text-anchor="middle" dominant-baseline="central" font-weight="normal" font-family="'Liberation Sans','Noto Sans CJK SC',sans-serif">顺</text><text x="1250.43" y="1676.70" font-size="15" fill="#6e7079" text-anchor="middle" dominant-baseline="central" font-weight="normal" font-family="'Liberation Sans','Noto Sans CJK SC',sans-serif">阮</text><text x="1250.43" y="1705.80" font-size="15" fill="#6e7079" text-anchor="middle" dominant-baseline="central" font-weight="normal" font-family="'Liberation Sans','Noto Sans CJK SC',sans-serif">小</text><text x="1250.43" y="1734.90" font-size="15" fill="#6e7079" text-anchor="middle" dominant-baseline="central" font-weight="normal" font-family="'Liberation Sans','Noto Sans CJK SC',sans-serif">七</text><text x="1277.19" y="1676.70" font-size="15" fill="#6e7079" text-anchor="middle" dominant-baseline="central" font-weight="normal" font-family="'Liberation Sans','Noto Sans CJK SC',sans-serif">杨</text><text x="1277.19" y="1705.80" font-size="15" fill="#6e7079" text-anchor="middle" dominant-baseline="central" font-weight="normal" font-family="'Liberation Sans','Noto Sans CJK SC',sans-serif">雄</text><text x="1303.95" y="1676.70" font-size="15" fill="#6e7079" text-anchor="middle" dominant-baseline="central" font-weight="normal" font-family="'Liberation Sans','Noto Sans CJK SC',sans-serif">石</text><text x="1303.95" y="1705.80" font-size="15" fill="#6e7079" text-anchor="middle" dominant-baseline="central" font-weight="normal" font-family="'Liberation Sans','Noto Sans CJK SC',sans-serif">秀</text><text x="1330.71" y="1676.70" font-size="15" fill="#6e7079" text-anchor="middle" dominant-baseline="central" font-weight="normal" font-family="'Liberation Sans','Noto Sans CJK SC',sans-serif">解</text><text x="1330.71" y="1705.80" font-size="15" fill="#6e7079" text-anchor="middle" dominant-baseline="central" font-weight="normal" font-family="'Liberation Sans','Noto Sans CJK SC',sans-serif">珍</text><text x="1357.46" y="1676.70" font-size="15" fill="#6e7079" text-anchor="middle" dominant-baseline="central" font-weight="normal" font-family="'Liberation Sans','Noto Sans CJK SC',sans-serif">解</text><text x="1357.46" y="1705.80" font-size="15" fill="#6e7079" text-anchor="middle" dominant-baseline="central" font-weight="normal" font-family="'Liberation Sans','Noto Sans CJK SC',sans-serif">宝</text><text x="1384.22" y="1676.70" font-size="15" fill="#6e7079" text-anchor="middle" dominant-baseline="central" font-weight="normal" font-family="'Liberation Sans','Noto Sans CJK SC',sans-serif">燕</text><text x="1384.22" y="1705.80" font-size="15" fill="#6e7079" text-anchor="middle" dominant-baseline="central" font-weight="normal" font-family="'Liberation Sans','Noto Sans CJK SC',sans-serif">青</text><path d="M206.88,1366.49C206.88,1366.49 214.97,1569.23 233.64,1569.23C241.73,1569.23 251.26,1527.99 260.39,1484.75C278.02,1401.28 269.53,1315.80 287.15,1315.80C296.28,1315.80 300.53,1400.28 313.91,1400.28C327.29,1400.28 324.42,1315.80 340.67,1315.80C351.18,1315.80 354.05,1366.49 367.43,1366.49C380.80,1366.49 386.32,1315.80 394.18,1315.80C413.08,1315.80 399.18,1389.13 420.94,1450.96C425.94,1465.16 438.18,1455.84 447.70,1467.86C464.94,1489.63 461.08,1493.20 474.46,1518.54C487.84,1543.88 494.50,1569.23 501.21,1569.23C521.26,1569.23 513.15,1400.28 527.97,1400.28C539.91,1400.28 538.45,1535.43 554.73,1535.43C565.20,1535.43 569.23,1450.96 581.49,1450.96C595.99,1450.96 589.28,1552.33 608.25,1552.33C616.04,1552.33 625.04,1537.41 635.00,1518.54C651.80,1486.72 652.52,1485.97 661.76,1450.96C679.28,1384.60 675.90,1315.80 688.52,1315.80C702.66,1315.80 693.07,1397.75 715.28,1467.86C719.83,1482.22 735.83,1471.04 742.03,1484.75C762.59,1530.17 761.34,1586.12 768.79,1586.12C788.10,1586.12 782.95,1315.80 795.55,1315.80C809.71,1315.80 807.72,1619.91 822.31,1619.91C834.48,1619.91 833.66,1366.49 849.07,1366.49C860.42,1366.49 855.32,1552.33 875.82,1552.33C882.08,1552.33 893.12,1501.64 902.58,1501.64C919.88,1501.64 908.79,1557.59 929.34,1603.02C935.54,1616.73 951.92,1619.91 956.10,1619.91C978.68,1619.91 965.23,1450.96 982.85,1450.96C991.99,1450.96 996.23,1493.20 1009.61,1535.43C1022.99,1577.67 1022.99,1619.91 1036.37,1619.91C1049.75,1619.91 1045.13,1535.43 1063.13,1535.43C1071.88,1535.43 1074.46,1569.23 1089.89,1569.23C1101.21,1569.23 1113.50,1567.20 1116.64,1552.33C1140.26,1440.49 1127.17,1315.80 1143.40,1315.80C1153.93,1315.80 1156.78,1467.86 1170.16,1467.86C1183.54,1467.86 1174.71,1315.80 1196.92,1315.80C1201.47,1315.80 1217.47,1318.98 1223.67,1332.70C1244.23,1378.12 1235.93,1383.71 1250.43,1434.07C1262.69,1476.63 1257.47,1481.19 1277.19,1518.54C1284.23,1531.88 1299.77,1535.43 1303.95,1535.43C1326.53,1535.43 1316.64,1366.49 1330.71,1366.49C1343.40,1366.49 1344.08,1518.54 1357.46,1518.54C1370.84,1518.54 1384.22,1366.49 1384.22,1366.49" fill="none" stroke="#5470c6" stroke-width="2.5"/><circle cx="206.88" cy="1366.49" r="2.6" fill="#fff" stroke="#5470c6" stroke-width="2"/><circle cx="233.64" cy="1569.23" r="2.6" fill="#fff" stroke="#5470c6" stroke-width="2"/><circle cx="260.39" cy="1484.75" r="2.6" fill="#fff" stroke="#5470c6" stroke-width="2"/><circle cx="287.15" cy="1315.80" r="2.6" fill="#fff" stroke="#5470c6" stroke-width="2"/><circle cx="313.91" cy="1400.28" r="2.6" fill="#fff" stroke="#5470c6" stroke-width="2"/><circle cx="340.67" cy="1315.80" r="2.6" fill="#fff" stroke="#5470c6" stroke-width="2"/><circle cx="367.43" cy="1366.49" r="2.6" fill="#fff" stroke="#5470c6" stroke-width="2"/><circle cx="394.18" cy="1315.80" r="2.6" fill="#fff" stroke="#5470c6" stroke-width="2"/><circle cx="420.94" cy="1450.96" r="2.6" fill="#fff" stroke="#5470c6" stroke-width="2"/><circle cx="447.70" cy="1467.86" r="2.6" fill="#fff" stroke="#5470c6" stroke-width="2"/><circle cx="474.46" cy="1518.54" r="2.6" fill="#fff" stroke="#5470c6" stroke-width="2"/><circle cx="501.21" cy="1569.23" r="2.6" fill="#fff" stroke="#5470c6" stroke-width="2"/><circle cx="527.97" cy="1400.28" r="2.6" fill="#fff" stroke="#5470c6" stroke-width="2"/><circle cx="554.73" cy="1535.43" r="2.6" fill="#fff" stroke="#5470c6" stroke-width="2"/><circle cx="581.49" cy="1450.96" r="2.6" fill="#fff" stroke="#5470c6" stroke-width="2"/><circle cx="608.25" cy="1552.33" r="2.6" fill="#fff" stroke="#5470c6" stroke-width="2"/><circle cx="635.00" cy="1518.54" r="2.6" fill="#fff" stroke="#5470c6" stroke-width="2"/><circle cx="661.76" cy="1450.96" r="2.6" fill="#fff" stroke="#5470c6" stroke-width="2"/><circle cx="688.52" cy="1315.80" r="2.6" fill="#fff" stroke="#5470c6" stroke-width="2"/><circle cx="715.28" cy="1467.86" r="2.6" fill="#fff" stroke="#5470c6" stroke-width="2"/><circle cx="742.03" cy="1484.75" r="2.6" fill="#fff" stroke="#5470c6" stroke-width="2"/><circle cx="768.79" cy="1586.12" r="2.6" fill="#fff" stroke="#5470c6" stroke-width="2"/><circle cx="795.55" cy="1315.80" r="2.6" fill="#fff" stroke="#5470c6" stroke-width="2"/><circle cx="822.31" cy="1619.91" r="2.6" fill="#fff" stroke="#5470c6" stroke-width="2"/><circle cx="849.07" cy="1366.49" r="2.6" fill="#fff" stroke="#5470c6" stroke-width="2"/><circle cx="875.82" cy="1552.33" r="2.6" fill="#fff" stroke="#5470c6" stroke-width="2"/><circle cx="902.58" cy="1501.64" r="2.6" fill="#fff" stroke="#5470c6" stroke-width="2"/><circle cx="929.34" cy="1603.02" r="2.6" fill="#fff" stroke="#5470c6" stroke-width="2"/><circle cx="956.10" cy="1619.91" r="2.6" fill="#fff" stroke="#5470c6" stroke-width="2"/><circle cx="982.85" cy="1450.96" r="2.6" fill="#fff" stroke="#5470c6" stroke-width="2"/><circle cx="1009.61" cy="1535.43" r="2.6" fill="#fff" stroke="#5470c6" stroke-width="2"/><circle cx="1036.37" cy="1619.91" r="2.6" fill="#fff" stroke="#5470c6" stroke-width="2"/><circle cx="1063.13" cy="1535.43" r="2.6" fill="#fff" stroke="#5470c6" stroke-width="2"/><circle cx="1089.89" cy="1569.23" r="2.6" fill="#fff" stroke="#5470c6" stroke-width="2"/><circle cx="1116.64" cy="1552.33" r="2.6" fill="#fff" stroke="#5470c6" stroke-width="2"/><circle cx="1143.40" cy="1315.80" r="2.6" fill="#fff" stroke="#5470c6" stroke-width="2"/><circle cx="1170.16" cy="1467.86" r="2.6" fill="#fff" stroke="#5470c6" stroke-width="2"/><circle cx="1196.92" cy="1315.80" r="2.6" fill="#fff" stroke="#5470c6" stroke-width="2"/><circle cx="1223.67" cy="1332.70" r="2.6" fill="#fff" stroke="#5470c6" stroke-width="2"/><circle cx="1250.43" cy="1434.07" r="2.6" fill="#fff" stroke="#5470c6" stroke-width="2"/><circle cx="1277.19" cy="1518.54" r="2.6" fill="#fff" stroke="#5470c6" stroke-width="2"/><circle cx="1303.95" cy="1535.43" r="2.6" fill="#fff" stroke="#5470c6" stroke-width="2"/><circle cx="1330.71" cy="1366.49" r="2.6" fill="#fff" stroke="#5470c6" stroke-width="2"/><circle cx="1357.46" cy="1518.54" r="2.6" fill="#fff" stroke="#5470c6" stroke-width="2"/><circle cx="1384.22" cy="1366.49" r="2.6" fill="#fff" stroke="#5470c6" stroke-width="2"/><text x="206.88" y="1340.79" font-size="15" fill="#800080" text-anchor="middle" dominant-baseline="central" font-weight="normal" font-family="'Liberation Sans','Noto Sans CJK SC',sans-serif">17</text><text x="233.64" y="1543.53" font-size="15" fill="#800080" text-anchor="middle" dominant-baseline="central" font-weight="normal" font-family="'Liberation Sans','Noto Sans CJK SC',sans-serif">5</text><text x="260.39" y="1459.05" font-size="15" fill="#800080" text-anchor="middle" dominant-baseline="central" font-weight="normal" font-family="'Liberation Sans','Noto Sans CJK SC',sans-serif">10</text><text x="287.15" y="1290.10" font-size="15" fill="#800080" text-anchor="middle" dominant-baseline="central" font-weight="normal" font-family="'Liberation Sans','Noto Sans CJK SC',sans-serif">20</text><text x="313.91" y="1374.58" font-size="15" fill="#800080" text-anchor="middle" dominant-baseline="central" font-weight="normal" font-family="'Liberation Sans','Noto Sans CJK SC',sans-serif">15</text><text x="340.67" y="1290.10" font-size="15" fill="#800080" text-anchor="middle" dominant-baseline="central" font-weight="normal" font-family="'Liberation Sans','Noto Sans CJK SC',sans-serif">20</text><text x="367.43" y="1340.79" font-size="15" fill="#800080" text-anchor="middle" dominant-baseline="central" font-weight="normal" font-family="'Liberation Sans','Noto Sans CJK SC',sans-serif">17</text><text x="394.18" y="1290.10" font-size="15" fill="#800080" text-anchor="middle" dominant-baseline="central" font-weight="normal" font-family="'Liberation Sans','Noto Sans CJK SC',sans-serif">20</text><text x="420.94" y="1425.26" font-size="15" fill="#800080" text-anchor="middle" dominant-baseline="central" font-weight="normal" font-family="'Liberation Sans','Noto Sans CJK SC',sans-serif">12</text><text x="447.70" y="1442.15" font-size="15" fill="#800080" text-anchor="middle" dominant-baseline="central" font-weight="normal" font-family="'Liberation Sans','Noto Sans CJK SC',sans-serif">11</text><text x="474.46" y="1492.84" font-size="15" fill="#800080" text-anchor="middle" dominant-baseline="central" font-weight="normal" font-family="'Liberation Sans','Noto Sans CJK SC',sans-serif">8</text><text x="501.21" y="1543.53" font-size="15" fill="#800080" text-anchor="middle" dominant-baseline="central" font-weight="normal" font-family="'Liberation Sans','Noto Sans CJK SC',sans-serif">5</text><text x="527.97" y="1374.58" font-size="15" fill="#800080" text-anchor="middle" dominant-baseline="central" font-weight="normal" font-family="'Liberation Sans','Noto Sans CJK SC',sans-serif">15</text><text x="554.73" y="1509.73" font-size="15" fill="#800080" text-anchor="middle" dominant-baseline="central" font-weight="normal" font-family="'Liberation Sans','Noto Sans CJK SC',sans-serif">7</text><text x="581.49" y="1425.26" font-size="15" fill="#800080" text-anchor="middle" dominant-baseline="central" font-weight="normal" font-family="'Liberation Sans','Noto Sans CJK SC',sans-serif">12</text><text x="608.25" y="1526.63" font-size="15" fill="#800080" text-anchor="middle" dominant-baseline="central" font-weight="normal" font-family="'Liberation Sans','Noto Sans CJK SC',sans-serif">6</text><text x="635.00" y="1492.84" font-size="15" fill="#800080" text-anchor="middle" dominant-baseline="central" font-weight="normal" font-family="'Liberation Sans','Noto Sans CJK SC',sans-serif">8</text><text x="661.76" y="1425.26" font-size="15" fill="#800080" text-anchor="middle" dominant-baseline="central" font-weight="normal" font-family="'Liberation Sans','Noto Sans CJK SC',sans-serif">12</text><text x="688.52" y="1290.10" font-size="15" fill="#800080" text-anchor="middle" dominant-baseline="central" font-weight="normal" font-family="'Liberation Sans','Noto Sans CJK SC',sans-serif">20</text><text x="715.28" y="1442.15" font-size="15" fill="#800080" text-anchor="middle" dominant-baseline="central" font-weight="normal" font-family="'Liberation Sans','Noto Sans CJK SC',sans-serif">11</text><text x="742.03" y="1459.05" font-size="15" fill="#800080" text-anchor="middle" dominant-baseline="central" font-weight="normal" font-family="'Liberation Sans','Noto Sans CJK SC',sans-serif">10</text><text x="768.79" y="1560.42" font-size="15" fill="#800080" text-anchor="middle" dominant-baseline="central" font-weight="normal" font-family="'Liberation Sans','Noto Sans CJK SC',sans-serif">4</text><text x="795.55" y="1290.10" font-size="15" fill="#800080" text-anchor="middle" dominant-baseline="central" font-weight="normal" font-family="'Liberation Sans','Noto Sans CJK SC',sans-serif">20</text><text x="822.31" y="1594.21" font-size="15" fill="#800080" text-anchor="middle" dominant-baseline="central" font-weight="normal" font-family="'Liberation Sans','Noto Sans CJK SC',sans-serif">2</text><text x="849.07" y="1340.79" font-size="15" fill="#800080" text-anchor="middle" dominant-baseline="central" font-weight="normal" font-family="'Liberation Sans','Noto Sans CJK SC',sans-serif">17</text><text x="875.82" y="1526.63" font-size="15" fill="#800080" text-anchor="middle" dominant-baseline="central" font-weight="normal" font-family="'Liberation Sans','Noto Sans CJK SC',sans-serif">6</text><text x="902.58" y="1475.94" font-size="15" fill="#800080" text-anchor="middle" dominant-baseline="central" font-weight="normal" font-family="'Liberation Sans','Noto Sans CJK SC',sans-serif">9</text><text x="929.34" y="1577.32" font-size="15" fill="#800080" text-anchor="middle" dominant-baseline="central" font-weight="normal" font-family="'Liberation Sans','Noto Sans CJK SC',sans-serif">3</text><text x="956.10" y="1594.21" font-size="15" fill="#800080" text-anchor="middle" dominant-baseline="central" font-weight="normal" font-family="'Liberation Sans','Noto Sans CJK SC',sans-serif">2</text><text x="982.85" y="1425.26" font-size="15" fill="#800080" text-anchor="middle" dominant-baseline="central" font-weight="normal" font-family="'Liberation Sans','Noto Sans CJK SC',sans-serif">12</text><text x="1009.61" y="1509.73" font-size="15" fill="#800080" text-anchor="middle" dominant-baseline="central" font-weight="normal" font-family="'Liberation Sans','Noto Sans CJK SC',sans-serif">7</text><text x="1036.37" y="1594.21" font-size="15" fill="#800080" text-anchor="middle" dominant-baseline="central" font-weight="normal" font-family="'Liberation Sans','Noto Sans CJK SC',sans-serif">2</text><text x="1063.13" y="1509.73" font-size="15" fill="#800080" text-anchor="middle" dominant-baseline="central" font-weight="normal" font-family="'Liberation Sans','Noto Sans CJK SC',sans-serif">7</text><text x="1089.89" y="1543.53" font-size="15" fill="#800080" text-anchor="middle" dominant-baseline="central" font-weight="normal" font-family="'Liberation Sans','Noto Sans CJK SC',sans-serif">5</text><text x="1116.64" y="1526.63" font-size="15" fill="#800080" text-anchor="middle" dominant-baseline="central" font-weight="normal" font-family="'Liberation Sans','Noto Sans CJK SC',sans-serif">6</text><text x="1143.40" y="1290.10" font-size="15" fill="#800080" text-anchor="middle" dominant-baseline="central" font-weight="normal" font-family="'Liberation Sans','Noto Sans CJK SC',sans-serif">20</text><text x="1170.16" y="1442.15" font-size="15" fill="#800080" text-anchor="middle" dominant-baseline="central" font-weight="normal" font-family="'Liberation Sans','Noto Sans CJK SC',sans-serif">11</text><text x="1196.92" y="1290.10" font-size="15" fill="#800080" text-anchor="middle" dominant-baseline="central" font-weight="normal" font-family="'Liberation Sans','Noto Sans CJK SC',sans-serif">20</text><text x="1223.67" y="1307.00" font-size="15" fill="#800080" text-anchor="middle" dominant-baseline="central" font-weight="normal" font-family="'Liberation Sans','Noto Sans CJK SC',sans-serif">19</text><text x="1250.43" y="1408.37" font-size="15" fill="#800080" text-anchor="middle" dominant-baseline="central" font-weight="normal" font-family="'Liberation Sans','Noto Sans CJK SC',sans-serif">13</text><text x="1277.19" y="1492.84" font-size="15" fill="#800080" text-anchor="middle" dominant-baseline="central" font-weight="normal" font-family="'Liberation Sans','Noto Sans CJK SC',sans-serif">8</text><text x="1303.95" y="1509.73" font-size="15" fill="#800080" text-anchor="middle" dominant-baseline="central" font-weight="normal" font-family="'Liberation Sans','Noto Sans CJK SC',sans-serif">7</text><text x="1330.71" y="1340.79" font-size="15" fill="#800080" text-anchor="middle" dominant-baseline="central" font-weight="normal" font-family="'Liberation Sans','Noto Sans CJK SC',sans-serif">17</text><text x="1357.46" y="1492.84" font-size="15" fill="#800080" text-anchor="middle" dominant-baseline="central" font-weight="normal" font-family="'Liberation Sans','Noto Sans CJK SC',sans-serif">8</text><text x="1384.22" y="1340.79" font-size="15" fill="#800080" text-anchor="middle" dominant-baseline="central" font-weight="normal" font-family="'Liberation Sans','Noto Sans CJK SC',sans-serif">17</text></svg>
<div class="a" style="left:1374px;top:1092px;width:119px;height:75px;background:#fff;border:1.25px solid #5470c6;border-radius:5px;box-shadow:1px 2px 12px rgba(0,0,0,0.2)"><div class="t" style="left:13px;top:9px;font:17.5px/24px 'Liberation Sans','Noto Sans CJK SC',sans-serif;color:#666">分数</div><div class="a" style="left:14px;top:46px;width:12.5px;height:12.5px;border-radius:50%;background:#5470c6"></div><div class="t" style="left:33px;top:40px;font:17.5px/24px 'Liberation Sans','Noto Sans CJK SC',sans-serif;color:#666">解宝</div><div class="t" style="left:93px;top:40px;font:900 17.5px/24px 'Liberation Sans','Noto Sans CJK SC',sans-serif;color:#666">8</div></div>
<div class="a" style="left:43px;top:1781px;width:1505px;height:419px;border:1px solid #95b8e7;background:#fff"></div>
<div class="a" style="left:43px;top:1781px;width:1505px;height:35px;border:1px solid #95b8e7;background:linear-gradient(to bottom,#eff5ff 0,#e0ecff 100%)"></div>
<svg class="a" style="left:57px;top:1790px" width="7" height="19"><circle cx="3.3" cy="3" r="2.4" fill="#111"/><circle cx="3.3" cy="9.5" r="2.4" fill="#111"/><circle cx="3.3" cy="16" r="2.4" fill="#111"/></svg>
<div class="t" style="left:73px;top:1787px;font:bold 15px/24px 'Liberation Sans','Noto Sans CJK SC',sans-serif;color:#0e2d5f">总分成绩排名列表</div>
<div class="a" style="left:44px;top:1816px;width:1503px;height:31px;background:linear-gradient(to bottom,#f9f9f9 0,#efefef 100%);border-bottom:1px solid #d6d6d6"></div>
<div class="a" style="left:44px;top:1847px;width:32px;height:312px;background:linear-gradient(to right,#f9f9f9 0,#efefef 100%)"></div>
<div class="a" style="left:76px;top:1816px;width:0;height:343px;border-left:1px dotted #ccc"></div>
<div class="a" style="left:111px;top:1816px;width:0;height:343px;border-left:1px dotted #ccc"></div>
<div class="a" style="left:298px;top:1816px;width:0;height:343px;border-left:1px dotted #ccc"></div>
<div class="a" style="left:486px;top:1816px;width:0;height:343px;border-left:1px dotted #ccc"></div>
<div class="a" style="left:611px;top:1816px;width:0;height:343px;border-left:1px dotted #ccc"></div>
<div class="a" style="left:736px;top:1816px;width:0;height:343px;border-left:1px dotted #ccc"></div>
<div class="a" style="left:44px;top:1878px;width:693px;height:0;border-top:1px dotted #ccc"></div>
<div class="a" style="left:44px;top:1909px;width:693px;height:0;border-top:1px dotted #ccc"></div>
<div class="a" style="left:44px;top:1940px;width:693px;height:0;border-top:1px dotted #ccc"></div>
<div class="a" style="left:44px;top:1972px;width:693px;height:0;border-top:1px dotted #ccc"></div>
<div class="a" style="left:44px;top:2003px;width:693px;height:0;border-top:1px dotted #ccc"></div>
<div class="a" style="left:44px;top:2034px;width:693px;height:0;border-top:1px dotted #ccc"></div>
<div class="a" style="left:44px;top:2065px;width:693px;height:0;border-top:1px dotted #ccc"></div>
<div class="a" style="left:44px;top:2096px;width:693px;height:0;border-top:1px dotted #ccc"></div>
<div class="a" style="left:44px;top:2128px;width:693px;height:0;border-top:1px dotted #ccc"></div>
<div class="a" style="left:44px;top:2159px;width:693px;height:0;border-top:1px dotted #ccc"></div>
<div class="a" style="left:84px;top:1821px;width:19px;height:19px;border:1.5px solid #7a7a7a;border-radius:3px;background:#fff"></div>
<div class="t" style="left:117px;top:1819.5px;font:15px/24px 'DejaVu Sans','Noto Sans CJK SC',sans-serif">学生ID</div>
<div class="t" style="left:304px;top:1819.5px;font:15px/24px 'DejaVu Sans','Noto Sans CJK SC',sans-serif">学生姓名</div>
<div class="t" style="left:492px;top:1819.5px;font:15px/24px 'DejaVu Sans','Noto Sans CJK SC',sans-serif">总分</div>
<div class="t" style="left:611px;width:125px;text-align:center;top:1819.5px;font:15px/24px 'DejaVu Sans','Noto Sans CJK SC',sans-serif">等级</div>
<div class="t" style="left:44px;width:32px;text-align:center;top:1850.5px;font:15px/24px 'DejaVu Sans','Noto Sans CJK SC',sans-serif">1</div>
<div class="a" style="left:84px;top:1853px;width:19px;height:19px;border:1.5px solid #7a7a7a;border-radius:3px;background:#fff"></div>
<div class="t" style="left:117px;top:1850.5px;font:15px/24px 'DejaVu Sans','Noto Sans CJK SC',sans-serif">66</div>
<div class="t" style="left:304px;top:1850.5px;font:15px/24px 'DejaVu Sans','Noto Sans CJK SC',sans-serif">武松</div>
<div class="t" style="left:492px;top:1850.5px;font:15px/24px 'DejaVu Sans','Noto Sans CJK SC',sans-serif">20</div>
<div class="t" style="left:611px;width:125px;text-align:center;top:1850.5px;font:15px/24px 'DejaVu Sans','Noto Sans CJK SC',sans-serif;color:#008000">掌握</div>
<div class="t" style="left:44px;width:32px;text-align:center;top:1882.0px;font:15px/24px 'DejaVu Sans','Noto Sans CJK SC',sans-serif">2</div>
<div class="a" style="left:84px;top:1884px;width:19px;height:19px;border:1.5px solid #7a7a7a;border-radius:3px;background:#fff"></div>
<div class="t" style="left:117px;top:1882.0px;font:15px/24px 'DejaVu Sans','Noto Sans CJK SC',sans-serif">37</div>
<div class="t" style="left:304px;top:1882.0px;font:15px/24px 'DejaVu Sans','Noto Sans CJK SC',sans-serif">李四</div>
<div class="t" style="left:492px;top:1882.0px;font:15px/24px 'DejaVu Sans','Noto Sans CJK SC',sans-serif">20</div>
<div class="t" style="left:611px;width:125px;text-align:center;top:1882.0px;font:15px/24px 'DejaVu Sans','Noto Sans CJK SC',sans-serif;color:#008000">掌握</div>
<div class="t" style="left:44px;width:32px;text-align:center;top:1913.0px;font:15px/24px 'DejaVu Sans','Noto Sans CJK SC',sans-serif">3</div>
<div class="a" style="left:84px;top:1916px;width:19px;height:19px;border:1.5px solid #7a7a7a;border-radius:3px;background:#fff"></div>
<div class="t" style="left:117px;top:1913.0px;font:15px/24px 'DejaVu Sans','Noto Sans CJK SC',sans-serif">81</div>
<div class="t" style="left:304px;top:1913.0px;font:15px/24px 'DejaVu Sans','Noto Sans CJK SC',sans-serif">阮小五</div>
<div class="t" style="left:492px;top:1913.0px;font:15px/24px 'DejaVu Sans','Noto Sans CJK SC',sans-serif">20</div>
<div class="t" style="left:611px;width:125px;text-align:center;top:1913.0px;font:15px/24px 'DejaVu Sans','Noto Sans CJK SC',sans-serif;color:#008000">掌握</div>
<div class="t" style="left:44px;width:32px;text-align:center;top:1944.5px;font:15px/24px 'DejaVu Sans','Noto Sans CJK SC',sans-serif">4</div>
<div class="a" style="left:84px;top:1947px;width:19px;height:19px;border:1.5px solid #7a7a7a;border-radius:3px;background:#fff"></div>
<div class="t" style="left:117px;top:1944.5px;font:15px/24px 'DejaVu Sans','Noto Sans CJK SC',sans-serif">39</div>
<div class="t" style="left:304px;top:1944.5px;font:15px/24px 'DejaVu Sans','Noto Sans CJK SC',sans-serif">赵六</div>
<div class="t" style="left:492px;top:1944.5px;font:15px/24px 'DejaVu Sans','Noto Sans CJK SC',sans-serif">20</div>
<div class="t" style="left:611px;width:125px;text-align:center;top:1944.5px;font:15px/24px 'DejaVu Sans','Noto Sans CJK SC',sans-serif;color:#008000">掌握</div>
<div class="t" style="left:44px;width:32px;text-align:center;top:1976.0px;font:15px/24px 'DejaVu Sans','Noto Sans CJK SC',sans-serif">5</div>
<div class="a" style="left:84px;top:1978px;width:19px;height:19px;border:1.5px solid #7a7a7a;border-radius:3px;background:#fff"></div>
<div class="t" style="left:117px;top:1976.0px;font:15px/24px 'DejaVu Sans','Noto Sans CJK SC',sans-serif">41</div>
<div class="t" style="left:304px;top:1976.0px;font:15px/24px 'DejaVu Sans','Noto Sans CJK SC',sans-serif">周八</div>
<div class="t" style="left:492px;top:1976.0px;font:15px/24px 'DejaVu Sans','Noto Sans CJK SC',sans-serif">20</div>
<div class="t" style="left:611px;width:125px;text-align:center;top:1976.0px;font:15px/24px 'DejaVu Sans','Noto Sans CJK SC',sans-serif;color:#008000">掌握</div>
<div class="t" style="left:44px;width:32px;text-align:center;top:2007.0px;font:15px/24px 'DejaVu Sans','Noto Sans CJK SC',sans-serif">6</div>
<div class="a" style="left:84px;top:2010px;width:19px;height:19px;border:1.5px solid #7a7a7a;border-radius:3px;background:#fff"></div>
<div class="t" style="left:117px;top:2007.0px;font:15px/24px 'DejaVu Sans','Noto Sans CJK SC',sans-serif">62</div>
<div class="t" style="left:304px;top:2007.0px;font:15px/24px 'DejaVu Sans','Noto Sans CJK SC',sans-serif">柴进</div>
<div class="t" style="left:492px;top:2007.0px;font:15px/24px 'DejaVu Sans','Noto Sans CJK SC',sans-serif">20</div>
<div class="t" style="left:611px;width:125px;text-align:center;top:2007.0px;font:15px/24px 'DejaVu Sans','Noto Sans CJK SC',sans-serif;color:#008000">掌握</div>
<div class="t" style="left:44px;width:32px;text-align:center;top:2038.0px;font:15px/24px 'DejaVu Sans','Noto Sans CJK SC',sans-serif">7</div>
<div class="a" style="left:84px;top:2040px;width:19px;height:19px;border:1.5px solid #7a7a7a;border-radius:3px;background:#fff"></div>
<div class="t" style="left:117px;top:2038.0px;font:15px/24px 'DejaVu Sans','Noto Sans CJK SC',sans-serif">79</div>
<div class="t" style="left:304px;top:2038.0px;font:15px/24px 'DejaVu Sans','Noto Sans CJK SC',sans-serif">阮小二</div>
<div class="t" style="left:492px;top:2038.0px;font:15px/24px 'DejaVu Sans','Noto Sans CJK SC',sans-serif">20</div>
<div class="t" style="left:611px;width:125px;text-align:center;top:2038.0px;font:15px/24px 'DejaVu Sans','Noto Sans CJK SC',sans-serif;color:#008000">掌握</div>
<div class="t" style="left:44px;width:32px;text-align:center;top:2069.0px;font:15px/24px 'DejaVu Sans','Noto Sans CJK SC',sans-serif">8</div>
<div class="a" style="left:84px;top:2072px;width:19px;height:19px;border:1.5px solid #7a7a7a;border-radius:3px;background:#fff"></div>
<div class="t" style="left:117px;top:2069.0px;font:15px/24px 'DejaVu Sans','Noto Sans CJK SC',sans-serif">82</div>
<div class="t" style="left:304px;top:2069.0px;font:15px/24px 'DejaVu Sans','Noto Sans CJK SC',sans-serif">张顺</div>
<div class="t" style="left:492px;top:2069.0px;font:15px/24px 'DejaVu Sans','Noto Sans CJK SC',sans-serif">19</div>
<div class="t" style="left:611px;width:125px;text-align:center;top:2069.0px;font:15px/24px 'DejaVu Sans','Noto Sans CJK SC',sans-serif;color:#008000">掌握</div>
<div class="t" style="left:44px;width:32px;text-align:center;top:2100.5px;font:15px/24px 'DejaVu Sans','Noto Sans CJK SC',sans-serif">9</div>
<div class="a" style="left:84px;top:2103px;width:19px;height:19px;border:1.5px solid #7a7a7a;border-radius:3px;background:#fff"></div>
<div class="t" style="left:117px;top:2100.5px;font:15px/24px 'DejaVu Sans','Noto Sans CJK SC',sans-serif">88</div>
<div class="t" style="left:304px;top:2100.5px;font:15px/24px 'DejaVu Sans','Noto Sans CJK SC',sans-serif">燕青</div>
<div class="t" style="left:492px;top:2100.5px;font:15px/24px 'DejaVu Sans','Noto Sans CJK SC',sans-serif">17</div>
<div class="t" style="left:611px;width:125px;text-align:center;top:2100.5px;font:15px/24px 'DejaVu Sans','Noto Sans CJK SC',sans-serif;color:#008000">掌握</div>
<div class="t" style="left:44px;width:32px;text-align:center;top:2132.0px;font:15px/24px 'DejaVu Sans','Noto Sans CJK SC',sans-serif">10</div>
<div class="a" style="left:84px;top:2134px;width:19px;height:19px;border:1.5px solid #7a7a7a;border-radius:3px;background:#fff"></div>
<div class="t" style="left:117px;top:2132.0px;font:15px/24px 'DejaVu Sans','Noto Sans CJK SC',sans-serif">40</div>
<div class="t" style="left:304px;top:2132.0px;font:15px/24px 'DejaVu Sans','Noto Sans CJK SC',sans-serif">陈七</div>
<div class="t" style="left:492px;top:2132.0px;font:15px/24px 'DejaVu Sans','Noto Sans CJK SC',sans-serif">17</div>
<div class="t" style="left:611px;width:125px;text-align:center;top:2132.0px;font:15px/24px 'DejaVu Sans','Noto Sans CJK SC',sans-serif;color:#008000">掌握</div>
<div class="a" style="left:44px;top:2159px;width:1503px;height:40px;background:#f4f4f4;border-top:1px solid #ddd"></div>
<div class="a" style="left:52px;top:2168px;width:60px;height:24px;border:1px solid #95b8e7;background:#fff"></div>
<div class="t" style="left:61px;top:2168px;font:15px/24px 'DejaVu Sans','Noto Sans CJK SC',sans-serif">10</div>
<svg class="a" style="left:94px;top:2176px" width="11" height="8"><path d="M1 1.5l4.5 4.5 4.5-4.5" stroke="#000" stroke-width="1.8" fill="none"/></svg>
<div class="a" style="left:121px;top:2165px;width:1px;height:29px;background:#ccc;box-shadow:1px 0 0 #fff"></div>
<div class="a" style="left:191px;top:2165px;width:1px;height:29px;background:#ccc;box-shadow:1px 0 0 #fff"></div>
<div class="a" style="left:339px;top:2165px;width:1px;height:29px;background:#ccc;box-shadow:1px 0 0 #fff"></div>
<div class="a" style="left:409px;top:2165px;width:1px;height:29px;background:#ccc;box-shadow:1px 0 0 #fff"></div>
<svg class="a" style="left:135px;top:2173px" width="12" height="14" opacity="0.45"><rect x="0.5" y="1" width="2.2" height="12" fill="#2196f3"/><path d="M11 1v12L3.5 7z" fill="#2196f3"/></svg>
<svg class="a" style="left:169px;top:2173px" width="10" height="14" opacity="0.45"><path d="M9 1v12L1 7z" fill="#2196f3"/></svg>
<svg class="a" style="left:354px;top:2173px" width="10" height="14"><path d="M1 1v12L9 7z" fill="#2196f3"/></svg>
<svg class="a" style="left:385px;top:2173px" width="12" height="14"><path d="M1 1v12L8.5 7z" fill="#2196f3"/><rect x="9.3" y="1" width="2.2" height="12" fill="#2196f3"/></svg>
<svg class="a" style="left:422px;top:2173px" width="14" height="14"><path d="M10.3 3.2A5.2 5.2 0 1 0 12.2 7" stroke="#2196f3" stroke-width="2.2" fill="none"/><path d="M8 0.5l5 1.5-3 4z" fill="#2196f3"/></svg>
<div class="t" style="left:202px;top:2168px;font:15px/24px 'DejaVu Sans','Noto Sans CJK SC',sans-serif">第</div>
<div class="a" style="left:220px;top:2168px;width:37px;height:24px;border:1px solid #95b8e7;background:#fff"></div>
<div class="t" style="left:224px;top:2168px;font:15px/24px 'DejaVu Sans','Noto Sans CJK SC',sans-serif">1</div>
<div class="t" style="left:260px;top:2168px;font:15px/24px 'DejaVu Sans','Noto Sans CJK SC',sans-serif;word-spacing:0">页 共 5 页</div>
<div class="t" style="right:146px;top:2168px;font:15px/24px 'DejaVu Sans','Noto Sans CJK SC',sans-serif;word-spacing:0.7px">当前显示 1 - 10 条记录 共 45 条记录</div>
<div class="t" style="left:31.3px;top:2318px;font:bold 15px/24px 'Liberation Sans','Noto Sans CJK SC',sans-serif;color:#000">课程名称</div>
<div class="a" style="left:31.3px;top:2343px;width:149px;height:28px;border:1px solid #95b8e7;border-radius:5px;background:#f8f8f8"></div>
<div class="t" style="left:36.8px;top:2345px;font:15px/24px 'Liberation Sans','Noto Sans CJK SC',sans-serif;color:#6a6a6a">语文</div>
<div class="t" style="left:196.1px;top:2318px;font:bold 15px/24px 'Liberation Sans','Noto Sans CJK SC',sans-serif;color:#000">年级班级</div>
<div class="a" style="left:196.1px;top:2343px;width:149px;height:28px;border:1px solid #95b8e7;border-radius:5px;background:#f8f8f8"></div>
<div class="t" style="left:201.6px;top:2345px;font:15px/24px 'Liberation Sans','Noto Sans CJK SC',sans-serif;color:#6a6a6a">高一 1班</div>
<div class="t" style="left:360.8px;top:2318px;font:bold 15px/24px 'Liberation Sans','Noto Sans CJK SC',sans-serif;color:#000">考试人数</div>
<div class="a" style="left:360.8px;top:2343px;width:149px;height:28px;border:1px solid #95b8e7;border-radius:5px;background:#f8f8f8"></div>
<div class="t" style="left:366.3px;top:2345px;font:15px/24px 'Liberation Sans','Noto Sans CJK SC',sans-serif;color:#6a6a6a">45/53</div>
<div class="t" style="left:525.5px;top:2318px;font:bold 15px/24px 'Liberation Sans','Noto Sans CJK SC',sans-serif;color:#000">考点个数</div>
<div class="a" style="left:525.5px;top:2343px;width:149px;height:28px;border:1px solid #95b8e7;border-radius:5px;background:#f8f8f8"></div>
<div class="t" style="left:531.0px;top:2345px;font:15px/24px 'Liberation Sans','Noto Sans CJK SC',sans-serif;color:#6a6a6a">5</div>
<div class="t" style="left:690.3px;top:2318px;font:bold 15px/24px 'Liberation Sans','Noto Sans CJK SC',sans-serif;color:#000">最高分</div>
<div class="a" style="left:690.3px;top:2343px;width:149px;height:28px;border:1px solid #95b8e7;border-radius:5px;background:#f8f8f8"></div>
<div class="t" style="left:695.8px;top:2345px;font:15px/24px 'Liberation Sans','Noto Sans CJK SC',sans-serif;color:#6a6a6a">20</div>
<div class="t" style="left:855.0px;top:2318px;font:bold 15px/24px 'Liberation Sans','Noto Sans CJK SC',sans-serif;color:#000">最低分</div>
<div class="a" style="left:855.0px;top:2343px;width:149px;height:28px;border:1px solid #95b8e7;border-radius:5px;background:#f8f8f8"></div>
<div class="t" style="left:860.5px;top:2345px;font:15px/24px 'Liberation Sans','Noto Sans CJK SC',sans-serif;color:#6a6a6a">2</div>
<div class="t" style="left:1019.8px;top:2318px;font:bold 15px/24px 'Liberation Sans','Noto Sans CJK SC',sans-serif;color:#000">平均分</div>
<div class="a" style="left:1019.8px;top:2343px;width:149px;height:28px;border:1px solid #95b8e7;border-radius:5px;background:#f8f8f8"></div>
<div class="t" style="left:1025.3px;top:2345px;font:15px/24px 'Liberation Sans','Noto Sans CJK SC',sans-serif;color:#6a6a6a">11</div>
<div class="t" style="left:1184.5px;top:2318px;font:bold 15px/24px 'Liberation Sans','Noto Sans CJK SC',sans-serif;color:#000">阈值</div>
<div class="a" style="left:1184.5px;top:2343px;width:149px;height:28px;border:1px solid #95b8e7;border-radius:5px;background:#f8f8f8"></div>
<div class="t" style="left:1190.0px;top:2345px;font:15px/24px 'Liberation Sans','Noto Sans CJK SC',sans-serif;color:#6a6a6a">20</div>
<div class="t" style="left:1349.3px;top:2318px;font:bold 15px/24px 'Liberation Sans','Noto Sans CJK SC',sans-serif;color:#000">难度系数</div>
<div class="a" style="left:1349.3px;top:2343px;width:149px;height:28px;border:1px solid #95b8e7;border-radius:5px;background:#f8f8f8"></div>
<div class="t" style="left:1354.8px;top:2345px;font:15px/24px 'Liberation Sans','Noto Sans CJK SC',sans-serif;color:#6a6a6a">0.45</div>
<div class="t" style="left:30px;top:2470px;font:bold 20px/30px 'Liberation Sans','Noto Sans CJK SC',sans-serif;color:#000">参考学生列表</div>
<div class="t" style="left:30px;top:2622px;font:bold 20px/30px 'Liberation Sans','Noto Sans CJK SC',sans-serif;color:#000">缺考学生列表</div>
<div class="a" style="left:199.4px;top:2397px;width:66.5px;height:51.3px;padding-top:2.6px;border:1.25px solid #008000;font:22.5px/48px 'Liberation Sans','Noto Sans CJK SC',sans-serif;color:#0000ff;text-align:center;white-space:nowrap">刘一</div>
<div class="a" style="left:274.4px;top:2397px;width:66.5px;height:51.3px;padding-top:2.6px;border:1.25px solid #008000;font:22.5px/48px 'Liberation Sans','Noto Sans CJK SC',sans-serif;color:#0000ff;text-align:center;white-space:nowrap">陈二</div>
<div class="a" style="left:349.4px;top:2397px;width:66.5px;height:51.3px;padding-top:2.6px;border:1.25px solid #008000;font:22.5px/48px 'Liberation Sans','Noto Sans CJK SC',sans-serif;color:#0000ff;text-align:center;white-space:nowrap">张三</div>
<div class="a" style="left:424.4px;top:2397px;width:66.5px;height:51.3px;padding-top:2.6px;border:1.25px solid #008000;font:22.5px/48px 'Liberation Sans','Noto Sans CJK SC',sans-serif;color:#0000ff;text-align:center;white-space:nowrap">李四</div>
<div class="a" style="left:499.4px;top:2397px;width:66.5px;height:51.3px;padding-top:2.6px;border:1.25px solid #008000;font:22.5px/48px 'Liberation Sans','Noto Sans CJK SC',sans-serif;color:#0000ff;text-align:center;white-space:nowrap">王五</div>
<div class="a" style="left:574.4px;top:2397px;width:66.5px;height:51.3px;padding-top:2.6px;border:1.25px solid #008000;font:22.5px/48px 'Liberation Sans','Noto Sans CJK SC',sans-serif;color:#0000ff;text-align:center;white-space:nowrap">赵六</div>
<div class="a" style="left:649.4px;top:2397px;width:66.5px;height:51.3px;padding-top:2.6px;border:1.25px solid #008000;font:22.5px/48px 'Liberation Sans','Noto Sans CJK SC',sans-serif;color:#0000ff;text-align:center;white-space:nowrap">陈七</div>
<div class="a" style="left:724.4px;top:2397px;width:66.5px;height:51.3px;padding-top:2.6px;border:1.25px solid #008000;font:22.5px/48px 'Liberation Sans','Noto Sans CJK SC',sans-serif;color:#0000ff;text-align:center;white-space:nowrap">周八</div>
<div class="a" style="left:799.4px;top:2397px;width:66.5px;height:51.3px;padding-top:2.6px;border:1.25px solid #008000;font:22.5px/48px 'Liberation Sans','Noto Sans CJK SC',sans-serif;color:#0000ff;text-align:center;white-space:nowrap">谢九</div>
<div class="a" style="left:874.4px;top:2397px;width:66.5px;height:51.3px;padding-top:2.6px;border:1.25px solid #008000;font:22.5px/48px 'Liberation Sans','Noto Sans CJK SC',sans-serif;color:#0000ff;text-align:center;white-space:nowrap">宋江</div>
<div class="a" style="left:949.4px;top:2397px;width:89px;height:51.3px;padding-top:2.6px;border:1.25px solid #008000;font:22.5px/48px 'Liberation Sans','Noto Sans CJK SC',sans-serif;color:#0000ff;text-align:center;white-space:nowrap">卢俊义</div>
<div class="a" style="left:1046.9px;top:2397px;width:66.5px;height:51.3px;padding-top:2.6px;border:1.25px solid #008000;font:22.5px/48px 'Liberation Sans','Noto Sans CJK SC',sans-serif;color:#0000ff;text-align:center;white-space:nowrap">吴用</div>
<div class="a" style="left:1121.9px;top:2397px;width:89px;height:51.3px;padding-top:2.6px;border:1.25px solid #008000;font:22.5px/48px 'Liberation Sans','Noto Sans CJK SC',sans-serif;color:#0000ff;text-align:center;white-space:nowrap">公孙胜</div>
<div class="a" style="left:1219.4px;top:2397px;width:66.5px;height:51.3px;padding-top:2.6px;border:1.25px solid #008000;font:22.5px/48px 'Liberation Sans','Noto Sans CJK SC',sans-serif;color:#0000ff;text-align:center;white-space:nowrap">关胜</div>
<div class="a" style="left:1294.4px;top:2397px;width:66.5px;height:51.3px;padding-top:2.6px;border:1.25px solid #008000;font:22.5px/48px 'Liberation Sans','Noto Sans CJK SC',sans-serif;color:#0000ff;text-align:center;white-space:nowrap">林冲</div>
<div class="a" style="left:1369.4px;top:2415px;width:66.5px;height:51.3px;padding-top:2.6px;border:1.25px solid #008000;font:22.5px/48px 'Liberation Sans','Noto Sans CJK SC',sans-serif;color:#0000ff;text-align:center;white-space:nowrap">秦明</div>
<div class="a" style="left:199.4px;top:2475px;width:89px;height:51.3px;padding-top:2.6px;border:1.25px solid #008000;font:22.5px/48px 'Liberation Sans','Noto Sans CJK SC',sans-serif;color:#0000ff;text-align:center;white-space:nowrap">呼延灼</div>
<div class="a" style="left:296.9px;top:2475px;width:66.5px;height:51.3px;padding-top:2.6px;border:1.25px solid #008000;font:22.5px/48px 'Liberation Sans','Noto Sans CJK SC',sans-serif;color:#0000ff;text-align:center;white-space:nowrap">花荣</div>
<div class="a" style="left:371.9px;top:2475px;width:66.5px;height:51.3px;padding-top:2.6px;border:1.25px solid #008000;font:22.5px/48px 'Liberation Sans','Noto Sans CJK SC',sans-serif;color:#0000ff;text-align:center;white-space:nowrap">柴进</div>
<div class="a" style="left:446.9px;top:2475px;width:66.5px;height:51.3px;padding-top:2.6px;border:1.25px solid #008000;font:22.5px/48px 'Liberation Sans','Noto Sans CJK SC',sans-serif;color:#0000ff;text-align:center;white-space:nowrap">李应</div>
<div class="a" style="left:521.9px;top:2475px;width:66.5px;height:51.3px;padding-top:2.6px;border:1.25px solid #008000;font:22.5px/48px 'Liberation Sans','Noto Sans CJK SC',sans-serif;color:#0000ff;text-align:center;white-space:nowrap">朱仝</div>
<div class="a" style="left:596.9px;top:2475px;width:89px;height:51.3px;padding-top:2.6px;border:1.25px solid #008000;font:22.5px/48px 'Liberation Sans','Noto Sans CJK SC',sans-serif;color:#0000ff;text-align:center;white-space:nowrap">鲁智深</div>
<div class="a" style="left:694.4px;top:2475px;width:66.5px;height:51.3px;padding-top:2.6px;border:1.25px solid #008000;font:22.5px/48px 'Liberation Sans','Noto Sans CJK SC',sans-serif;color:#0000ff;text-align:center;white-space:nowrap">武松</div>
<div class="a" style="left:769.4px;top:2475px;width:66.5px;height:51.3px;padding-top:2.6px;border:1.25px solid #008000;font:22.5px/48px 'Liberation Sans','Noto Sans CJK SC',sans-serif;color:#0000ff;text-align:center;white-space:nowrap">董平</div>
<div class="a" style="left:844.4px;top:2475px;width:66.5px;height:51.3px;padding-top:2.6px;border:1.25px solid #008000;font:22.5px/48px 'Liberation Sans','Noto Sans CJK SC',sans-serif;color:#0000ff;text-align:center;white-space:nowrap">张清</div>
<div class="a" style="left:919.4px;top:2475px;width:66.5px;height:51.3px;padding-top:2.6px;border:1.25px solid #008000;font:22.5px/48px 'Liberation Sans','Noto Sans CJK SC',sans-serif;color:#0000ff;text-align:center;white-space:nowrap">杨志</div>
<div class="a" style="left:994.4px;top:2475px;width:66.5px;height:51.3px;padding-top:2.6px;border:1.25px solid #008000;font:22.5px/48px 'Liberation Sans','Noto Sans CJK SC',sans-serif;color:#0000ff;text-align:center;white-space:nowrap">徐宁</div>
<div class="a" style="left:1069.4px;top:2475px;width:66.5px;height:51.3px;padding-top:2.6px;border:1.25px solid #008000;font:22.5px/48px 'Liberation Sans','Noto Sans CJK SC',sans-serif;color:#0000ff;text-align:center;white-space:nowrap">索超</div>
<div class="a" style="left:1144.4px;top:2475px;width:66.5px;height:51.3px;padding-top:2.6px;border:1.25px solid #008000;font:22.5px/48px 'Liberation Sans','Noto Sans CJK SC',sans-serif;color:#0000ff;text-align:center;white-space:nowrap">戴宗</div>
<div class="a" style="left:1219.4px;top:2475px;width:66.5px;height:51.3px;padding-top:2.6px;border:1.25px solid #008000;font:22.5px/48px 'Liberation Sans','Noto Sans CJK SC',sans-serif;color:#0000ff;text-align:center;white-space:nowrap">刘唐</div>
<div class="a" style="left:1294.4px;top:2475px;width:66.5px;height:51.3px;padding-top:2.6px;border:1.25px solid #008000;font:22.5px/48px 'Liberation Sans','Noto Sans CJK SC',sans-serif;color:#0000ff;text-align:center;white-space:nowrap">李逵</div>
<div class="a" style="left:1369.4px;top:2475px;width:66.5px;height:51.3px;padding-top:2.6px;border:1.25px solid #008000;font:22.5px/48px 'Liberation Sans','Noto Sans CJK SC',sans-serif;color:#0000ff;text-align:center;white-space:nowrap">史进</div>
<div class="a" style="left:199.4px;top:2535.5px;width:66.5px;height:51.3px;padding-top:2.6px;border:1.25px solid #008000;font:22.5px/48px 'Liberation Sans','Noto Sans CJK SC',sans-serif;color:#0000ff;text-align:center;white-space:nowrap">穆弘</div>
<div class="a" style="left:274.4px;top:2535.5px;width:66.5px;height:51.3px;padding-top:2.6px;border:1.25px solid #008000;font:22.5px/48px 'Liberation Sans','Noto Sans CJK SC',sans-serif;color:#0000ff;text-align:center;white-space:nowrap">雷横</div>
<div class="a" style="left:349.4px;top:2535.5px;width:66.5px;height:51.3px;padding-top:2.6px;border:1.25px solid #008000;font:22.5px/48px 'Liberation Sans','Noto Sans CJK SC',sans-serif;color:#0000ff;text-align:center;white-space:nowrap">李俊</div>
<div class="a" style="left:424.4px;top:2535.5px;width:89px;height:51.3px;padding-top:2.6px;border:1.25px solid #008000;font:22.5px/48px 'Liberation Sans','Noto Sans CJK SC',sans-serif;color:#0000ff;text-align:center;white-space:nowrap">阮小二</div>
<div class="a" style="left:521.9px;top:2535.5px;width:66.5px;height:51.3px;padding-top:2.6px;border:1.25px solid #008000;font:22.5px/48px 'Liberation Sans','Noto Sans CJK SC',sans-serif;color:#0000ff;text-align:center;white-space:nowrap">张横</div>
<div class="a" style="left:596.9px;top:2535.5px;width:89px;height:51.3px;padding-top:2.6px;border:1.25px solid #008000;font:22.5px/48px 'Liberation Sans','Noto Sans CJK SC',sans-serif;color:#0000ff;text-align:center;white-space:nowrap">阮小五</div>
<div class="a" style="left:694.4px;top:2535.5px;width:66.5px;height:51.3px;padding-top:2.6px;border:1.25px solid #008000;font:22.5px/48px 'Liberation Sans','Noto Sans CJK SC',sans-serif;color:#0000ff;text-align:center;white-space:nowrap">张顺</div>
<div class="a" style="left:769.4px;top:2535.5px;width:89px;height:51.3px;padding-top:2.6px;border:1.25px solid #008000;font:22.5px/48px 'Liberation Sans','Noto Sans CJK SC',sans-serif;color:#0000ff;text-align:center;white-space:nowrap">阮小七</div>
<div class="a" style="left:866.9px;top:2535.5px;width:66.5px;height:51.3px;padding-top:2.6px;border:1.25px solid #008000;font:22.5px/48px 'Liberation Sans','Noto Sans CJK SC',sans-serif;color:#0000ff;text-align:center;white-space:nowrap">杨雄</div>
<div class="a" style="left:941.9px;top:2535.5px;width:66.5px;height:51.3px;padding-top:2.6px;border:1.25px solid #008000;font:22.5px/48px 'Liberation Sans','Noto Sans CJK SC',sans-serif;color:#0000ff;text-align:center;white-space:nowrap">石秀</div>
<div class="a" style="left:1016.9px;top:2535.5px;width:66.5px;height:51.3px;padding-top:2.6px;border:1.25px solid #008000;font:22.5px/48px 'Liberation Sans','Noto Sans CJK SC',sans-serif;color:#0000ff;text-align:center;white-space:nowrap">解珍</div>
<div class="a" style="left:1091.9px;top:2535.5px;width:66.5px;height:51.3px;padding-top:2.6px;border:1.25px solid #008000;font:22.5px/48px 'Liberation Sans','Noto Sans CJK SC',sans-serif;color:#0000ff;text-align:center;white-space:nowrap">解宝</div>
<div class="a" style="left:1166.9px;top:2535.5px;width:66.5px;height:51.3px;padding-top:2.6px;border:1.25px solid #008000;font:22.5px/48px 'Liberation Sans','Noto Sans CJK SC',sans-serif;color:#0000ff;text-align:center;white-space:nowrap">燕青</div>
<div class="a" style="left:199.4px;top:2617.5px;width:66.5px;height:51.3px;padding-top:2.6px;border:1.25px solid #008000;font:22.5px/48px 'Liberation Sans','Noto Sans CJK SC',sans-serif;color:#ff0000;text-align:center;white-space:nowrap">张龙</div>
<div class="a" style="left:274.4px;top:2617.5px;width:66.5px;height:51.3px;padding-top:2.6px;border:1.25px solid #008000;font:22.5px/48px 'Liberation Sans','Noto Sans CJK SC',sans-serif;color:#ff0000;text-align:center;white-space:nowrap">赵虎</div>
<div class="a" style="left:349.4px;top:2617.5px;width:66.5px;height:51.3px;padding-top:2.6px;border:1.25px solid #008000;font:22.5px/48px 'Liberation Sans','Noto Sans CJK SC',sans-serif;color:#ff0000;text-align:center;white-space:nowrap">王朝</div>
<div class="a" style="left:424.4px;top:2617.5px;width:66.5px;height:51.3px;padding-top:2.6px;border:1.25px solid #008000;font:22.5px/48px 'Liberation Sans','Noto Sans CJK SC',sans-serif;color:#ff0000;text-align:center;white-space:nowrap">马汉</div>
<div class="a" style="left:499.4px;top:2617.5px;width:66.5px;height:51.3px;padding-top:2.6px;border:1.25px solid #008000;font:22.5px/48px 'Liberation Sans','Noto Sans CJK SC',sans-serif;color:#ff0000;text-align:center;white-space:nowrap">青龙</div>
<div class="a" style="left:574.4px;top:2617.5px;width:66.5px;height:51.3px;padding-top:2.6px;border:1.25px solid #008000;font:22.5px/48px 'Liberation Sans','Noto Sans CJK SC',sans-serif;color:#ff0000;text-align:center;white-space:nowrap">白虎</div>
<div class="a" style="left:649.4px;top:2617.5px;width:66.5px;height:51.3px;padding-top:2.6px;border:1.25px solid #008000;font:22.5px/48px 'Liberation Sans','Noto Sans CJK SC',sans-serif;color:#ff0000;text-align:center;white-space:nowrap">朱雀</div>
<div class="a" style="left:724.4px;top:2617.5px;width:66.5px;height:51.3px;padding-top:2.6px;border:1.25px solid #008000;font:22.5px/48px 'Liberation Sans','Noto Sans CJK SC',sans-serif;color:#ff0000;text-align:center;white-space:nowrap">玄武</div>
<div class="t" style="left:31px;top:2695px;font:15px/24px 'DejaVu Sans','Noto Sans CJK SC',sans-serif;color:#000">第一章节：掌握<span style="letter-spacing:0.55px">(28.89%)</span>，一般<span style="letter-spacing:0.55px">(15.56%)</span>，没掌握<span style="letter-spacing:0.55px">(55.56%)</span></div>
<div class="t" style="left:30.5px;top:2733px;font:22.5px/34px 'DejaVu Sans','Noto Sans CJK SC',sans-serif;color:#ff0000">很遗憾，本考点您的教学成果一般，<span style="letter-spacing:0.83px">44.44%</span>的学生过了及格线，但还有<span style="letter-spacing:0.83px">55.56%</span>未及格，请加强本考点相关知识点的教学</div>
<div class="t" style="left:30.5px;top:2798px;font:22.5px/34px 'DejaVu Sans','Noto Sans CJK SC',sans-serif;color:#ff0000">根据最新难度系数计算公式推算，本考点学生的总体考试成绩及格率为<span style="letter-spacing:0.9px">44.44%</span>低于难度系数及格率标准值<span style="letter-spacing:0.9px">50%,</span>所以您的教学可能存在问题，望改进</div>
</body></html>
